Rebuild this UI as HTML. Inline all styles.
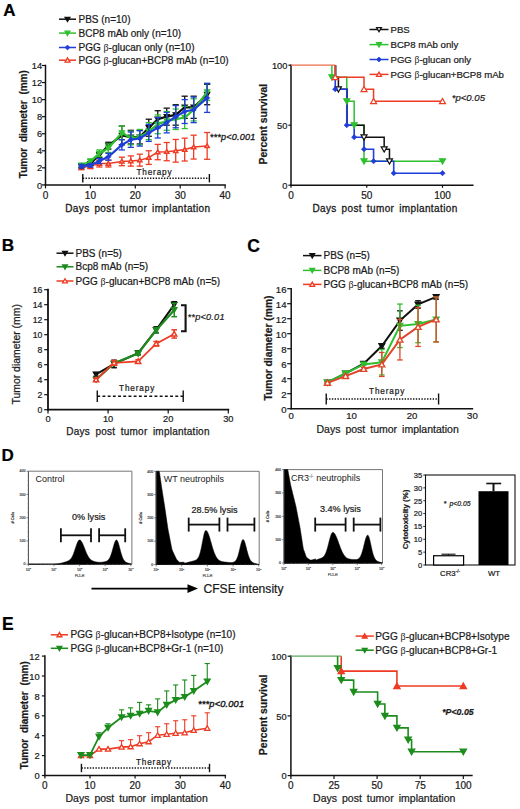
<!DOCTYPE html><html><head><meta charset="utf-8"><style>html,body{margin:0;padding:0;background:#fff;overflow:hidden;}svg{display:block;}text{font-family:"Liberation Sans",sans-serif;}</style></head><body>
<svg width="520" height="809" viewBox="0 0 520 809">
<rect width="520" height="809" fill="#fff"/>
<text x="3.30" y="15.80" font-size="17" text-anchor="start" font-weight="bold" font-style="normal" fill="#000" stroke="#000" stroke-width="0.22" >A</text>
<text x="1.70" y="250.80" font-size="17.2" text-anchor="start" font-weight="bold" font-style="normal" fill="#000" stroke="#000" stroke-width="0.22" >B</text>
<text x="247.20" y="251.60" font-size="17.5" text-anchor="start" font-weight="bold" font-style="normal" fill="#000" stroke="#000" stroke-width="0.22" >C</text>
<text x="1.50" y="460.60" font-size="17" text-anchor="start" font-weight="bold" font-style="normal" fill="#000" stroke="#000" stroke-width="0.22" >D</text>
<text x="1.90" y="629.80" font-size="17.5" text-anchor="start" font-weight="bold" font-style="normal" fill="#000" stroke="#000" stroke-width="0.22" >E</text>
<line x1="45.50" y1="184.90" x2="225.10" y2="184.90" stroke="#111" stroke-width="1.5" stroke-linecap="square"/>
<line x1="45.50" y1="184.90" x2="45.50" y2="65.48" stroke="#111" stroke-width="1.5" stroke-linecap="square"/>
<line x1="42.00" y1="184.90" x2="45.50" y2="184.90" stroke="#111" stroke-width="1.2" />
<text x="42.10" y="188.50" font-size="9.3" text-anchor="end" font-weight="normal" font-style="normal" fill="#1a1a1a" stroke="#1a1a1a" stroke-width="0.22" >0</text>
<line x1="42.00" y1="167.84" x2="45.50" y2="167.84" stroke="#111" stroke-width="1.2" />
<text x="42.10" y="171.44" font-size="9.3" text-anchor="end" font-weight="normal" font-style="normal" fill="#1a1a1a" stroke="#1a1a1a" stroke-width="0.22" >2</text>
<line x1="42.00" y1="150.78" x2="45.50" y2="150.78" stroke="#111" stroke-width="1.2" />
<text x="42.10" y="154.38" font-size="9.3" text-anchor="end" font-weight="normal" font-style="normal" fill="#1a1a1a" stroke="#1a1a1a" stroke-width="0.22" >4</text>
<line x1="42.00" y1="133.72" x2="45.50" y2="133.72" stroke="#111" stroke-width="1.2" />
<text x="42.10" y="137.32" font-size="9.3" text-anchor="end" font-weight="normal" font-style="normal" fill="#1a1a1a" stroke="#1a1a1a" stroke-width="0.22" >6</text>
<line x1="42.00" y1="116.66" x2="45.50" y2="116.66" stroke="#111" stroke-width="1.2" />
<text x="42.10" y="120.26" font-size="9.3" text-anchor="end" font-weight="normal" font-style="normal" fill="#1a1a1a" stroke="#1a1a1a" stroke-width="0.22" >8</text>
<line x1="42.00" y1="99.60" x2="45.50" y2="99.60" stroke="#111" stroke-width="1.2" />
<text x="42.10" y="103.20" font-size="9.3" text-anchor="end" font-weight="normal" font-style="normal" fill="#1a1a1a" stroke="#1a1a1a" stroke-width="0.22" >10</text>
<line x1="42.00" y1="82.54" x2="45.50" y2="82.54" stroke="#111" stroke-width="1.2" />
<text x="42.10" y="86.14" font-size="9.3" text-anchor="end" font-weight="normal" font-style="normal" fill="#1a1a1a" stroke="#1a1a1a" stroke-width="0.22" >12</text>
<line x1="42.00" y1="65.48" x2="45.50" y2="65.48" stroke="#111" stroke-width="1.2" />
<text x="42.10" y="69.08" font-size="9.3" text-anchor="end" font-weight="normal" font-style="normal" fill="#1a1a1a" stroke="#1a1a1a" stroke-width="0.22" >14</text>
<line x1="45.50" y1="184.90" x2="45.50" y2="188.40" stroke="#111" stroke-width="1.2" />
<text x="45.50" y="198.90" font-size="10" text-anchor="middle" font-weight="normal" font-style="normal" fill="#1a1a1a" stroke="#1a1a1a" stroke-width="0.22" >0</text>
<line x1="90.40" y1="184.90" x2="90.40" y2="188.40" stroke="#111" stroke-width="1.2" />
<text x="90.40" y="198.90" font-size="10" text-anchor="middle" font-weight="normal" font-style="normal" fill="#1a1a1a" stroke="#1a1a1a" stroke-width="0.22" >10</text>
<line x1="135.30" y1="184.90" x2="135.30" y2="188.40" stroke="#111" stroke-width="1.2" />
<text x="135.30" y="198.90" font-size="10" text-anchor="middle" font-weight="normal" font-style="normal" fill="#1a1a1a" stroke="#1a1a1a" stroke-width="0.22" >20</text>
<line x1="180.20" y1="184.90" x2="180.20" y2="188.40" stroke="#111" stroke-width="1.2" />
<text x="180.20" y="198.90" font-size="10" text-anchor="middle" font-weight="normal" font-style="normal" fill="#1a1a1a" stroke="#1a1a1a" stroke-width="0.22" >30</text>
<line x1="225.10" y1="184.90" x2="225.10" y2="188.40" stroke="#111" stroke-width="1.2" />
<text x="225.10" y="198.90" font-size="10" text-anchor="middle" font-weight="normal" font-style="normal" fill="#1a1a1a" stroke="#1a1a1a" stroke-width="0.22" >40</text>
<text x="137.90" y="211.80" font-size="10" text-anchor="middle" font-weight="normal" font-style="normal" fill="#1a1a1a" letter-spacing="0.38" word-spacing="1.7" stroke="#1a1a1a" stroke-width="0.3">Days post tumor implantation</text>
<text x="27.20" y="124.20" font-size="10" text-anchor="middle" font-weight="bold" font-style="normal" fill="#1a1a1a" stroke="#1a1a1a" stroke-width="0.22" transform="rotate(-90 27.2 124.2)" word-spacing="3">Tumor diameter (mm)</text>
<line x1="81.42" y1="166.13" x2="81.42" y2="169.55" stroke="#ee3b24" stroke-width="1.3" />
<line x1="78.32" y1="166.13" x2="84.52" y2="166.13" stroke="#ee3b24" stroke-width="1.3" />
<line x1="78.32" y1="169.55" x2="84.52" y2="169.55" stroke="#ee3b24" stroke-width="1.3" />
<line x1="90.40" y1="163.58" x2="90.40" y2="168.69" stroke="#ee3b24" stroke-width="1.3" />
<line x1="87.30" y1="163.58" x2="93.50" y2="163.58" stroke="#ee3b24" stroke-width="1.3" />
<line x1="87.30" y1="168.69" x2="93.50" y2="168.69" stroke="#ee3b24" stroke-width="1.3" />
<line x1="99.38" y1="160.16" x2="99.38" y2="166.99" stroke="#ee3b24" stroke-width="1.3" />
<line x1="96.28" y1="160.16" x2="102.48" y2="160.16" stroke="#ee3b24" stroke-width="1.3" />
<line x1="96.28" y1="166.99" x2="102.48" y2="166.99" stroke="#ee3b24" stroke-width="1.3" />
<line x1="108.36" y1="160.16" x2="108.36" y2="166.99" stroke="#ee3b24" stroke-width="1.3" />
<line x1="105.26" y1="160.16" x2="111.46" y2="160.16" stroke="#ee3b24" stroke-width="1.3" />
<line x1="105.26" y1="166.99" x2="111.46" y2="166.99" stroke="#ee3b24" stroke-width="1.3" />
<line x1="121.83" y1="157.18" x2="121.83" y2="165.71" stroke="#ee3b24" stroke-width="1.3" />
<line x1="118.73" y1="157.18" x2="124.93" y2="157.18" stroke="#ee3b24" stroke-width="1.3" />
<line x1="118.73" y1="165.71" x2="124.93" y2="165.71" stroke="#ee3b24" stroke-width="1.3" />
<line x1="130.81" y1="155.90" x2="130.81" y2="166.13" stroke="#ee3b24" stroke-width="1.3" />
<line x1="127.71" y1="155.90" x2="133.91" y2="155.90" stroke="#ee3b24" stroke-width="1.3" />
<line x1="127.71" y1="166.13" x2="133.91" y2="166.13" stroke="#ee3b24" stroke-width="1.3" />
<line x1="139.79" y1="154.19" x2="139.79" y2="166.13" stroke="#ee3b24" stroke-width="1.3" />
<line x1="136.69" y1="154.19" x2="142.89" y2="154.19" stroke="#ee3b24" stroke-width="1.3" />
<line x1="136.69" y1="166.13" x2="142.89" y2="166.13" stroke="#ee3b24" stroke-width="1.3" />
<line x1="148.77" y1="150.78" x2="148.77" y2="164.43" stroke="#ee3b24" stroke-width="1.3" />
<line x1="145.67" y1="150.78" x2="151.87" y2="150.78" stroke="#ee3b24" stroke-width="1.3" />
<line x1="145.67" y1="164.43" x2="151.87" y2="164.43" stroke="#ee3b24" stroke-width="1.3" />
<line x1="157.75" y1="144.38" x2="157.75" y2="159.74" stroke="#ee3b24" stroke-width="1.3" />
<line x1="154.65" y1="144.38" x2="160.85" y2="144.38" stroke="#ee3b24" stroke-width="1.3" />
<line x1="154.65" y1="159.74" x2="160.85" y2="159.74" stroke="#ee3b24" stroke-width="1.3" />
<line x1="166.73" y1="142.51" x2="166.73" y2="160.76" stroke="#ee3b24" stroke-width="1.3" />
<line x1="163.63" y1="142.51" x2="169.83" y2="142.51" stroke="#ee3b24" stroke-width="1.3" />
<line x1="163.63" y1="160.76" x2="169.83" y2="160.76" stroke="#ee3b24" stroke-width="1.3" />
<line x1="175.71" y1="139.44" x2="175.71" y2="162.12" stroke="#ee3b24" stroke-width="1.3" />
<line x1="172.61" y1="139.44" x2="178.81" y2="139.44" stroke="#ee3b24" stroke-width="1.3" />
<line x1="172.61" y1="162.12" x2="178.81" y2="162.12" stroke="#ee3b24" stroke-width="1.3" />
<line x1="184.69" y1="138.16" x2="184.69" y2="161.02" stroke="#ee3b24" stroke-width="1.3" />
<line x1="181.59" y1="138.16" x2="187.79" y2="138.16" stroke="#ee3b24" stroke-width="1.3" />
<line x1="181.59" y1="161.02" x2="187.79" y2="161.02" stroke="#ee3b24" stroke-width="1.3" />
<line x1="193.67" y1="135.17" x2="193.67" y2="159.05" stroke="#ee3b24" stroke-width="1.3" />
<line x1="190.57" y1="135.17" x2="196.77" y2="135.17" stroke="#ee3b24" stroke-width="1.3" />
<line x1="190.57" y1="159.05" x2="196.77" y2="159.05" stroke="#ee3b24" stroke-width="1.3" />
<line x1="207.14" y1="132.53" x2="207.14" y2="159.31" stroke="#ee3b24" stroke-width="1.3" />
<line x1="204.04" y1="132.53" x2="210.24" y2="132.53" stroke="#ee3b24" stroke-width="1.3" />
<line x1="204.04" y1="159.31" x2="210.24" y2="159.31" stroke="#ee3b24" stroke-width="1.3" />
<polyline points="81.42,167.84 90.40,166.13 99.38,163.58 108.36,163.58 121.83,161.44 130.81,161.02 139.79,160.16 148.77,157.60 157.75,152.06 166.73,151.63 175.71,150.78 184.69,149.59 193.67,147.11 207.14,145.92" fill="none" stroke="#ee3b24" stroke-width="1.5" stroke-linejoin="miter" />
<polygon points="79.32,169.52 83.52,169.52 81.42,165.84" fill="#fff" stroke="#ee3b24" stroke-width="1.5" stroke-linejoin="miter"/>
<polygon points="88.30,167.81 92.50,167.81 90.40,164.14" fill="#fff" stroke="#ee3b24" stroke-width="1.5" stroke-linejoin="miter"/>
<polygon points="97.28,165.26 101.48,165.26 99.38,161.58" fill="#fff" stroke="#ee3b24" stroke-width="1.5" stroke-linejoin="miter"/>
<polygon points="106.26,165.26 110.46,165.26 108.36,161.58" fill="#fff" stroke="#ee3b24" stroke-width="1.5" stroke-linejoin="miter"/>
<polygon points="119.73,163.12 123.93,163.12 121.83,159.45" fill="#fff" stroke="#ee3b24" stroke-width="1.5" stroke-linejoin="miter"/>
<polygon points="128.71,162.70 132.91,162.70 130.81,159.02" fill="#fff" stroke="#ee3b24" stroke-width="1.5" stroke-linejoin="miter"/>
<polygon points="137.69,161.84 141.89,161.84 139.79,158.17" fill="#fff" stroke="#ee3b24" stroke-width="1.5" stroke-linejoin="miter"/>
<polygon points="146.67,159.28 150.87,159.28 148.77,155.61" fill="#fff" stroke="#ee3b24" stroke-width="1.5" stroke-linejoin="miter"/>
<polygon points="155.65,153.74 159.85,153.74 157.75,150.06" fill="#fff" stroke="#ee3b24" stroke-width="1.5" stroke-linejoin="miter"/>
<polygon points="164.63,153.31 168.83,153.31 166.73,149.64" fill="#fff" stroke="#ee3b24" stroke-width="1.5" stroke-linejoin="miter"/>
<polygon points="173.61,152.46 177.81,152.46 175.71,148.78" fill="#fff" stroke="#ee3b24" stroke-width="1.5" stroke-linejoin="miter"/>
<polygon points="182.59,151.27 186.79,151.27 184.69,147.59" fill="#fff" stroke="#ee3b24" stroke-width="1.5" stroke-linejoin="miter"/>
<polygon points="191.57,148.79 195.77,148.79 193.67,145.12" fill="#fff" stroke="#ee3b24" stroke-width="1.5" stroke-linejoin="miter"/>
<polygon points="205.04,147.60 209.24,147.60 207.14,143.92" fill="#fff" stroke="#ee3b24" stroke-width="1.5" stroke-linejoin="miter"/>
<line x1="81.42" y1="164.43" x2="81.42" y2="167.84" stroke="#111" stroke-width="1.3" />
<line x1="78.32" y1="164.43" x2="84.52" y2="164.43" stroke="#111" stroke-width="1.3" />
<line x1="78.32" y1="167.84" x2="84.52" y2="167.84" stroke="#111" stroke-width="1.3" />
<line x1="90.40" y1="161.87" x2="90.40" y2="165.28" stroke="#111" stroke-width="1.3" />
<line x1="87.30" y1="161.87" x2="93.50" y2="161.87" stroke="#111" stroke-width="1.3" />
<line x1="87.30" y1="165.28" x2="93.50" y2="165.28" stroke="#111" stroke-width="1.3" />
<line x1="99.38" y1="152.49" x2="99.38" y2="157.60" stroke="#111" stroke-width="1.3" />
<line x1="96.28" y1="152.49" x2="102.48" y2="152.49" stroke="#111" stroke-width="1.3" />
<line x1="96.28" y1="157.60" x2="102.48" y2="157.60" stroke="#111" stroke-width="1.3" />
<line x1="108.36" y1="142.25" x2="108.36" y2="149.07" stroke="#111" stroke-width="1.3" />
<line x1="105.26" y1="142.25" x2="111.46" y2="142.25" stroke="#111" stroke-width="1.3" />
<line x1="105.26" y1="149.07" x2="111.46" y2="149.07" stroke="#111" stroke-width="1.3" />
<line x1="121.83" y1="126.04" x2="121.83" y2="144.81" stroke="#111" stroke-width="1.3" />
<line x1="118.73" y1="126.04" x2="124.93" y2="126.04" stroke="#111" stroke-width="1.3" />
<line x1="118.73" y1="144.81" x2="124.93" y2="144.81" stroke="#111" stroke-width="1.3" />
<line x1="130.81" y1="130.31" x2="130.81" y2="143.96" stroke="#111" stroke-width="1.3" />
<line x1="127.71" y1="130.31" x2="133.91" y2="130.31" stroke="#111" stroke-width="1.3" />
<line x1="127.71" y1="143.96" x2="133.91" y2="143.96" stroke="#111" stroke-width="1.3" />
<line x1="139.79" y1="130.31" x2="139.79" y2="143.96" stroke="#111" stroke-width="1.3" />
<line x1="136.69" y1="130.31" x2="142.89" y2="130.31" stroke="#111" stroke-width="1.3" />
<line x1="136.69" y1="143.96" x2="142.89" y2="143.96" stroke="#111" stroke-width="1.3" />
<line x1="148.77" y1="119.22" x2="148.77" y2="136.28" stroke="#111" stroke-width="1.3" />
<line x1="145.67" y1="119.22" x2="151.87" y2="119.22" stroke="#111" stroke-width="1.3" />
<line x1="145.67" y1="136.28" x2="151.87" y2="136.28" stroke="#111" stroke-width="1.3" />
<line x1="157.75" y1="110.69" x2="157.75" y2="127.75" stroke="#111" stroke-width="1.3" />
<line x1="154.65" y1="110.69" x2="160.85" y2="110.69" stroke="#111" stroke-width="1.3" />
<line x1="154.65" y1="127.75" x2="160.85" y2="127.75" stroke="#111" stroke-width="1.3" />
<line x1="166.73" y1="108.13" x2="166.73" y2="125.19" stroke="#111" stroke-width="1.3" />
<line x1="163.63" y1="108.13" x2="169.83" y2="108.13" stroke="#111" stroke-width="1.3" />
<line x1="163.63" y1="125.19" x2="169.83" y2="125.19" stroke="#111" stroke-width="1.3" />
<line x1="175.71" y1="104.72" x2="175.71" y2="125.19" stroke="#111" stroke-width="1.3" />
<line x1="172.61" y1="104.72" x2="178.81" y2="104.72" stroke="#111" stroke-width="1.3" />
<line x1="172.61" y1="125.19" x2="178.81" y2="125.19" stroke="#111" stroke-width="1.3" />
<line x1="184.69" y1="96.19" x2="184.69" y2="118.37" stroke="#111" stroke-width="1.3" />
<line x1="181.59" y1="96.19" x2="187.79" y2="96.19" stroke="#111" stroke-width="1.3" />
<line x1="181.59" y1="118.37" x2="187.79" y2="118.37" stroke="#111" stroke-width="1.3" />
<line x1="193.67" y1="96.19" x2="193.67" y2="118.37" stroke="#111" stroke-width="1.3" />
<line x1="190.57" y1="96.19" x2="196.77" y2="96.19" stroke="#111" stroke-width="1.3" />
<line x1="190.57" y1="118.37" x2="196.77" y2="118.37" stroke="#111" stroke-width="1.3" />
<line x1="207.14" y1="84.25" x2="207.14" y2="104.72" stroke="#111" stroke-width="1.3" />
<line x1="204.04" y1="84.25" x2="210.24" y2="84.25" stroke="#111" stroke-width="1.3" />
<line x1="204.04" y1="104.72" x2="210.24" y2="104.72" stroke="#111" stroke-width="1.3" />
<polyline points="81.42,166.13 90.40,163.58 99.38,155.05 108.36,145.66 121.83,135.43 130.81,137.13 139.79,137.13 148.77,127.75 157.75,119.22 166.73,116.66 175.71,114.95 184.69,107.28 193.67,107.28 207.14,94.48" fill="none" stroke="#111" stroke-width="2.2" stroke-linejoin="miter" />
<polygon points="78.82,164.05 84.02,164.05 81.42,168.60" fill="#111" stroke="#111" stroke-width="1.2" stroke-linejoin="miter"/>
<polygon points="87.80,161.50 93.00,161.50 90.40,166.05" fill="#111" stroke="#111" stroke-width="1.2" stroke-linejoin="miter"/>
<polygon points="96.78,152.97 101.98,152.97 99.38,157.52" fill="#111" stroke="#111" stroke-width="1.2" stroke-linejoin="miter"/>
<polygon points="105.76,143.58 110.96,143.58 108.36,148.13" fill="#111" stroke="#111" stroke-width="1.2" stroke-linejoin="miter"/>
<polygon points="119.23,133.35 124.43,133.35 121.83,137.90" fill="#111" stroke="#111" stroke-width="1.2" stroke-linejoin="miter"/>
<polygon points="128.21,135.05 133.41,135.05 130.81,139.60" fill="#111" stroke="#111" stroke-width="1.2" stroke-linejoin="miter"/>
<polygon points="137.19,135.05 142.39,135.05 139.79,139.60" fill="#111" stroke="#111" stroke-width="1.2" stroke-linejoin="miter"/>
<polygon points="146.17,125.67 151.37,125.67 148.77,130.22" fill="#111" stroke="#111" stroke-width="1.2" stroke-linejoin="miter"/>
<polygon points="155.15,117.14 160.35,117.14 157.75,121.69" fill="#111" stroke="#111" stroke-width="1.2" stroke-linejoin="miter"/>
<polygon points="164.13,114.58 169.33,114.58 166.73,119.13" fill="#111" stroke="#111" stroke-width="1.2" stroke-linejoin="miter"/>
<polygon points="173.11,112.87 178.31,112.87 175.71,117.42" fill="#111" stroke="#111" stroke-width="1.2" stroke-linejoin="miter"/>
<polygon points="182.09,105.20 187.29,105.20 184.69,109.75" fill="#111" stroke="#111" stroke-width="1.2" stroke-linejoin="miter"/>
<polygon points="191.07,105.20 196.27,105.20 193.67,109.75" fill="#111" stroke="#111" stroke-width="1.2" stroke-linejoin="miter"/>
<polygon points="204.54,92.40 209.74,92.40 207.14,96.95" fill="#111" stroke="#111" stroke-width="1.2" stroke-linejoin="miter"/>
<line x1="81.42" y1="163.58" x2="81.42" y2="166.99" stroke="#2fc02f" stroke-width="1.3" />
<line x1="78.32" y1="163.58" x2="84.52" y2="163.58" stroke="#2fc02f" stroke-width="1.3" />
<line x1="78.32" y1="166.99" x2="84.52" y2="166.99" stroke="#2fc02f" stroke-width="1.3" />
<line x1="90.40" y1="158.88" x2="90.40" y2="164.00" stroke="#2fc02f" stroke-width="1.3" />
<line x1="87.30" y1="158.88" x2="93.50" y2="158.88" stroke="#2fc02f" stroke-width="1.3" />
<line x1="87.30" y1="164.00" x2="93.50" y2="164.00" stroke="#2fc02f" stroke-width="1.3" />
<line x1="99.38" y1="149.93" x2="99.38" y2="156.75" stroke="#2fc02f" stroke-width="1.3" />
<line x1="96.28" y1="149.93" x2="102.48" y2="149.93" stroke="#2fc02f" stroke-width="1.3" />
<line x1="96.28" y1="156.75" x2="102.48" y2="156.75" stroke="#2fc02f" stroke-width="1.3" />
<line x1="108.36" y1="143.96" x2="108.36" y2="152.49" stroke="#2fc02f" stroke-width="1.3" />
<line x1="105.26" y1="143.96" x2="111.46" y2="143.96" stroke="#2fc02f" stroke-width="1.3" />
<line x1="105.26" y1="152.49" x2="111.46" y2="152.49" stroke="#2fc02f" stroke-width="1.3" />
<line x1="121.83" y1="126.04" x2="121.83" y2="139.69" stroke="#2fc02f" stroke-width="1.3" />
<line x1="118.73" y1="126.04" x2="124.93" y2="126.04" stroke="#2fc02f" stroke-width="1.3" />
<line x1="118.73" y1="139.69" x2="124.93" y2="139.69" stroke="#2fc02f" stroke-width="1.3" />
<line x1="130.81" y1="131.16" x2="130.81" y2="144.81" stroke="#2fc02f" stroke-width="1.3" />
<line x1="127.71" y1="131.16" x2="133.91" y2="131.16" stroke="#2fc02f" stroke-width="1.3" />
<line x1="127.71" y1="144.81" x2="133.91" y2="144.81" stroke="#2fc02f" stroke-width="1.3" />
<line x1="139.79" y1="129.46" x2="139.79" y2="144.81" stroke="#2fc02f" stroke-width="1.3" />
<line x1="136.69" y1="129.46" x2="142.89" y2="129.46" stroke="#2fc02f" stroke-width="1.3" />
<line x1="136.69" y1="144.81" x2="142.89" y2="144.81" stroke="#2fc02f" stroke-width="1.3" />
<line x1="148.77" y1="122.63" x2="148.77" y2="139.69" stroke="#2fc02f" stroke-width="1.3" />
<line x1="145.67" y1="122.63" x2="151.87" y2="122.63" stroke="#2fc02f" stroke-width="1.3" />
<line x1="145.67" y1="139.69" x2="151.87" y2="139.69" stroke="#2fc02f" stroke-width="1.3" />
<line x1="157.75" y1="114.95" x2="157.75" y2="133.72" stroke="#2fc02f" stroke-width="1.3" />
<line x1="154.65" y1="114.95" x2="160.85" y2="114.95" stroke="#2fc02f" stroke-width="1.3" />
<line x1="154.65" y1="133.72" x2="160.85" y2="133.72" stroke="#2fc02f" stroke-width="1.3" />
<line x1="166.73" y1="111.54" x2="166.73" y2="130.31" stroke="#2fc02f" stroke-width="1.3" />
<line x1="163.63" y1="111.54" x2="169.83" y2="111.54" stroke="#2fc02f" stroke-width="1.3" />
<line x1="163.63" y1="130.31" x2="169.83" y2="130.31" stroke="#2fc02f" stroke-width="1.3" />
<line x1="175.71" y1="108.98" x2="175.71" y2="129.46" stroke="#2fc02f" stroke-width="1.3" />
<line x1="172.61" y1="108.98" x2="178.81" y2="108.98" stroke="#2fc02f" stroke-width="1.3" />
<line x1="172.61" y1="129.46" x2="178.81" y2="129.46" stroke="#2fc02f" stroke-width="1.3" />
<line x1="184.69" y1="106.42" x2="184.69" y2="128.60" stroke="#2fc02f" stroke-width="1.3" />
<line x1="181.59" y1="106.42" x2="187.79" y2="106.42" stroke="#2fc02f" stroke-width="1.3" />
<line x1="181.59" y1="128.60" x2="187.79" y2="128.60" stroke="#2fc02f" stroke-width="1.3" />
<line x1="193.67" y1="98.75" x2="193.67" y2="120.93" stroke="#2fc02f" stroke-width="1.3" />
<line x1="190.57" y1="98.75" x2="196.77" y2="98.75" stroke="#2fc02f" stroke-width="1.3" />
<line x1="190.57" y1="120.93" x2="196.77" y2="120.93" stroke="#2fc02f" stroke-width="1.3" />
<line x1="207.14" y1="83.39" x2="207.14" y2="100.45" stroke="#2fc02f" stroke-width="1.3" />
<line x1="204.04" y1="83.39" x2="210.24" y2="83.39" stroke="#2fc02f" stroke-width="1.3" />
<line x1="204.04" y1="100.45" x2="210.24" y2="100.45" stroke="#2fc02f" stroke-width="1.3" />
<polyline points="81.42,165.28 90.40,161.44 99.38,153.34 108.36,148.22 121.83,132.87 130.81,137.99 139.79,137.13 148.77,131.16 157.75,124.34 166.73,120.93 175.71,119.22 184.69,117.51 193.67,109.84 207.14,91.92" fill="none" stroke="#2fc02f" stroke-width="2.2" stroke-linejoin="miter" />
<polygon points="78.82,163.20 84.02,163.20 81.42,167.75" fill="#2fc02f" stroke="#2fc02f" stroke-width="1.2" stroke-linejoin="miter"/>
<polygon points="87.80,159.36 93.00,159.36 90.40,163.91" fill="#2fc02f" stroke="#2fc02f" stroke-width="1.2" stroke-linejoin="miter"/>
<polygon points="96.78,151.26 101.98,151.26 99.38,155.81" fill="#2fc02f" stroke="#2fc02f" stroke-width="1.2" stroke-linejoin="miter"/>
<polygon points="105.76,146.14 110.96,146.14 108.36,150.69" fill="#2fc02f" stroke="#2fc02f" stroke-width="1.2" stroke-linejoin="miter"/>
<polygon points="119.23,130.79 124.43,130.79 121.83,135.34" fill="#2fc02f" stroke="#2fc02f" stroke-width="1.2" stroke-linejoin="miter"/>
<polygon points="128.21,135.91 133.41,135.91 130.81,140.46" fill="#2fc02f" stroke="#2fc02f" stroke-width="1.2" stroke-linejoin="miter"/>
<polygon points="137.19,135.05 142.39,135.05 139.79,139.60" fill="#2fc02f" stroke="#2fc02f" stroke-width="1.2" stroke-linejoin="miter"/>
<polygon points="146.17,129.08 151.37,129.08 148.77,133.63" fill="#2fc02f" stroke="#2fc02f" stroke-width="1.2" stroke-linejoin="miter"/>
<polygon points="155.15,122.26 160.35,122.26 157.75,126.81" fill="#2fc02f" stroke="#2fc02f" stroke-width="1.2" stroke-linejoin="miter"/>
<polygon points="164.13,118.85 169.33,118.85 166.73,123.40" fill="#2fc02f" stroke="#2fc02f" stroke-width="1.2" stroke-linejoin="miter"/>
<polygon points="173.11,117.14 178.31,117.14 175.71,121.69" fill="#2fc02f" stroke="#2fc02f" stroke-width="1.2" stroke-linejoin="miter"/>
<polygon points="182.09,115.43 187.29,115.43 184.69,119.98" fill="#2fc02f" stroke="#2fc02f" stroke-width="1.2" stroke-linejoin="miter"/>
<polygon points="191.07,107.76 196.27,107.76 193.67,112.31" fill="#2fc02f" stroke="#2fc02f" stroke-width="1.2" stroke-linejoin="miter"/>
<polygon points="204.54,89.84 209.74,89.84 207.14,94.39" fill="#2fc02f" stroke="#2fc02f" stroke-width="1.2" stroke-linejoin="miter"/>
<line x1="81.42" y1="164.43" x2="81.42" y2="167.84" stroke="#1f3fd8" stroke-width="1.3" />
<line x1="78.32" y1="164.43" x2="84.52" y2="164.43" stroke="#1f3fd8" stroke-width="1.3" />
<line x1="78.32" y1="167.84" x2="84.52" y2="167.84" stroke="#1f3fd8" stroke-width="1.3" />
<line x1="90.40" y1="163.58" x2="90.40" y2="166.99" stroke="#1f3fd8" stroke-width="1.3" />
<line x1="87.30" y1="163.58" x2="93.50" y2="163.58" stroke="#1f3fd8" stroke-width="1.3" />
<line x1="87.30" y1="166.99" x2="93.50" y2="166.99" stroke="#1f3fd8" stroke-width="1.3" />
<line x1="99.38" y1="158.46" x2="99.38" y2="163.58" stroke="#1f3fd8" stroke-width="1.3" />
<line x1="96.28" y1="158.46" x2="102.48" y2="158.46" stroke="#1f3fd8" stroke-width="1.3" />
<line x1="96.28" y1="163.58" x2="102.48" y2="163.58" stroke="#1f3fd8" stroke-width="1.3" />
<line x1="108.36" y1="153.34" x2="108.36" y2="160.16" stroke="#1f3fd8" stroke-width="1.3" />
<line x1="105.26" y1="153.34" x2="111.46" y2="153.34" stroke="#1f3fd8" stroke-width="1.3" />
<line x1="105.26" y1="160.16" x2="111.46" y2="160.16" stroke="#1f3fd8" stroke-width="1.3" />
<line x1="121.83" y1="139.69" x2="121.83" y2="149.93" stroke="#1f3fd8" stroke-width="1.3" />
<line x1="118.73" y1="139.69" x2="124.93" y2="139.69" stroke="#1f3fd8" stroke-width="1.3" />
<line x1="118.73" y1="149.93" x2="124.93" y2="149.93" stroke="#1f3fd8" stroke-width="1.3" />
<line x1="130.81" y1="132.01" x2="130.81" y2="147.37" stroke="#1f3fd8" stroke-width="1.3" />
<line x1="127.71" y1="132.01" x2="133.91" y2="132.01" stroke="#1f3fd8" stroke-width="1.3" />
<line x1="127.71" y1="147.37" x2="133.91" y2="147.37" stroke="#1f3fd8" stroke-width="1.3" />
<line x1="139.79" y1="130.73" x2="139.79" y2="146.09" stroke="#1f3fd8" stroke-width="1.3" />
<line x1="136.69" y1="130.73" x2="142.89" y2="130.73" stroke="#1f3fd8" stroke-width="1.3" />
<line x1="136.69" y1="146.09" x2="142.89" y2="146.09" stroke="#1f3fd8" stroke-width="1.3" />
<line x1="148.77" y1="124.34" x2="148.77" y2="141.40" stroke="#1f3fd8" stroke-width="1.3" />
<line x1="145.67" y1="124.34" x2="151.87" y2="124.34" stroke="#1f3fd8" stroke-width="1.3" />
<line x1="145.67" y1="141.40" x2="151.87" y2="141.40" stroke="#1f3fd8" stroke-width="1.3" />
<line x1="157.75" y1="117.51" x2="157.75" y2="137.99" stroke="#1f3fd8" stroke-width="1.3" />
<line x1="154.65" y1="117.51" x2="160.85" y2="117.51" stroke="#1f3fd8" stroke-width="1.3" />
<line x1="154.65" y1="137.99" x2="160.85" y2="137.99" stroke="#1f3fd8" stroke-width="1.3" />
<line x1="166.73" y1="112.40" x2="166.73" y2="132.87" stroke="#1f3fd8" stroke-width="1.3" />
<line x1="163.63" y1="112.40" x2="169.83" y2="112.40" stroke="#1f3fd8" stroke-width="1.3" />
<line x1="163.63" y1="132.87" x2="169.83" y2="132.87" stroke="#1f3fd8" stroke-width="1.3" />
<line x1="175.71" y1="105.57" x2="175.71" y2="127.75" stroke="#1f3fd8" stroke-width="1.3" />
<line x1="172.61" y1="105.57" x2="178.81" y2="105.57" stroke="#1f3fd8" stroke-width="1.3" />
<line x1="172.61" y1="127.75" x2="178.81" y2="127.75" stroke="#1f3fd8" stroke-width="1.3" />
<line x1="184.69" y1="99.60" x2="184.69" y2="123.48" stroke="#1f3fd8" stroke-width="1.3" />
<line x1="181.59" y1="99.60" x2="187.79" y2="99.60" stroke="#1f3fd8" stroke-width="1.3" />
<line x1="181.59" y1="123.48" x2="187.79" y2="123.48" stroke="#1f3fd8" stroke-width="1.3" />
<line x1="193.67" y1="97.04" x2="193.67" y2="122.63" stroke="#1f3fd8" stroke-width="1.3" />
<line x1="190.57" y1="97.04" x2="196.77" y2="97.04" stroke="#1f3fd8" stroke-width="1.3" />
<line x1="190.57" y1="122.63" x2="196.77" y2="122.63" stroke="#1f3fd8" stroke-width="1.3" />
<line x1="207.14" y1="83.39" x2="207.14" y2="112.40" stroke="#1f3fd8" stroke-width="1.3" />
<line x1="204.04" y1="83.39" x2="210.24" y2="83.39" stroke="#1f3fd8" stroke-width="1.3" />
<line x1="204.04" y1="112.40" x2="210.24" y2="112.40" stroke="#1f3fd8" stroke-width="1.3" />
<polyline points="81.42,166.13 90.40,165.28 99.38,161.02 108.36,156.75 121.83,144.81 130.81,139.69 139.79,138.41 148.77,132.87 157.75,127.75 166.73,122.63 175.71,116.66 184.69,111.54 193.67,109.84 207.14,97.89" fill="none" stroke="#1f3fd8" stroke-width="2.2" stroke-linejoin="miter" />
<polygon points="81.42,163.53 84.02,166.13 81.42,168.73 78.82,166.13" fill="#1f3fd8" stroke="#1f3fd8" stroke-width="0.72"/>
<polygon points="90.40,162.68 93.00,165.28 90.40,167.88 87.80,165.28" fill="#1f3fd8" stroke="#1f3fd8" stroke-width="0.72"/>
<polygon points="99.38,158.42 101.98,161.02 99.38,163.62 96.78,161.02" fill="#1f3fd8" stroke="#1f3fd8" stroke-width="0.72"/>
<polygon points="108.36,154.15 110.96,156.75 108.36,159.35 105.76,156.75" fill="#1f3fd8" stroke="#1f3fd8" stroke-width="0.72"/>
<polygon points="121.83,142.21 124.43,144.81 121.83,147.41 119.23,144.81" fill="#1f3fd8" stroke="#1f3fd8" stroke-width="0.72"/>
<polygon points="130.81,137.09 133.41,139.69 130.81,142.29 128.21,139.69" fill="#1f3fd8" stroke="#1f3fd8" stroke-width="0.72"/>
<polygon points="139.79,135.81 142.39,138.41 139.79,141.01 137.19,138.41" fill="#1f3fd8" stroke="#1f3fd8" stroke-width="0.72"/>
<polygon points="148.77,130.27 151.37,132.87 148.77,135.47 146.17,132.87" fill="#1f3fd8" stroke="#1f3fd8" stroke-width="0.72"/>
<polygon points="157.75,125.15 160.35,127.75 157.75,130.35 155.15,127.75" fill="#1f3fd8" stroke="#1f3fd8" stroke-width="0.72"/>
<polygon points="166.73,120.03 169.33,122.63 166.73,125.23 164.13,122.63" fill="#1f3fd8" stroke="#1f3fd8" stroke-width="0.72"/>
<polygon points="175.71,114.06 178.31,116.66 175.71,119.26 173.11,116.66" fill="#1f3fd8" stroke="#1f3fd8" stroke-width="0.72"/>
<polygon points="184.69,108.94 187.29,111.54 184.69,114.14 182.09,111.54" fill="#1f3fd8" stroke="#1f3fd8" stroke-width="0.72"/>
<polygon points="193.67,107.24 196.27,109.84 193.67,112.44 191.07,109.84" fill="#1f3fd8" stroke="#1f3fd8" stroke-width="0.72"/>
<polygon points="207.14,95.29 209.74,97.89 207.14,100.49 204.54,97.89" fill="#1f3fd8" stroke="#1f3fd8" stroke-width="0.72"/>
<line x1="82.77" y1="174.00" x2="82.77" y2="182.40" stroke="#111" stroke-width="1.4" />
<line x1="209.39" y1="174.00" x2="209.39" y2="182.40" stroke="#111" stroke-width="1.4" />
<line x1="82.77" y1="178.20" x2="209.39" y2="178.20" stroke="#111" stroke-width="1.4" stroke-dasharray="1.4,1.4"/>
<text x="154.40" y="174.90" font-size="8.2" text-anchor="middle" font-weight="normal" font-style="normal" fill="#1a1a1a" stroke="#1a1a1a" stroke-width="0.22" letter-spacing="0.85">Therapy</text>
<text x="209.80" y="139.60" font-size="9.1" text-anchor="start" font-weight="normal" font-style="italic" fill="#1a1a1a" stroke="#1a1a1a" stroke-width="0.3" letter-spacing="0.2">***<tspan>p&lt;0.001</tspan></text>
<line x1="59.00" y1="19.20" x2="76.00" y2="19.20" stroke="#111" stroke-width="1.5" />
<polygon points="65.10,17.28 69.90,17.28 67.50,21.48" fill="#111" stroke="#111" stroke-width="1.3" stroke-linejoin="miter"/>
<text x="78.50" y="22.80" font-size="10" text-anchor="start" font-weight="normal" font-style="normal" fill="#1a1a1a" stroke="#1a1a1a" stroke-width="0.22" >PBS (n=10)</text>
<line x1="59.00" y1="33.10" x2="76.00" y2="33.10" stroke="#2fc02f" stroke-width="1.5" />
<polygon points="65.10,31.18 69.90,31.18 67.50,35.38" fill="#2fc02f" stroke="#2fc02f" stroke-width="1.3" stroke-linejoin="miter"/>
<text x="78.50" y="36.70" font-size="10" text-anchor="start" font-weight="normal" font-style="normal" fill="#1a1a1a" stroke="#1a1a1a" stroke-width="0.22" >BCP8 mAb only (n=10)</text>
<line x1="59.00" y1="47.50" x2="76.00" y2="47.50" stroke="#1f3fd8" stroke-width="1.5" />
<polygon points="67.50,45.10 69.90,47.50 67.50,49.90 65.10,47.50" fill="#1f3fd8" stroke="#1f3fd8" stroke-width="0.78"/>
<text x="78.50" y="51.10" font-size="10" text-anchor="start" font-weight="normal" font-style="normal" fill="#1a1a1a" stroke="#1a1a1a" stroke-width="0.22" >PGG <tspan font-family='Liberation Serif' stroke-width='0'>&#946;</tspan>-glucan only (n=10)</text>
<line x1="59.00" y1="60.20" x2="76.00" y2="60.20" stroke="#ee3b24" stroke-width="1.5" />
<polygon points="65.10,62.12 69.90,62.12 67.50,57.92" fill="#fff" stroke="#ee3b24" stroke-width="1.3" stroke-linejoin="miter"/>
<text x="78.50" y="63.80" font-size="10" text-anchor="start" font-weight="normal" font-style="normal" fill="#1a1a1a" stroke="#1a1a1a" stroke-width="0.22" >PGG <tspan font-family='Liberation Serif' stroke-width='0'>&#946;</tspan>-glucan+BCP8 mAb (n=10)</text>
<line x1="291.00" y1="185.20" x2="472.80" y2="185.20" stroke="#111" stroke-width="1.5" stroke-linecap="square"/>
<line x1="291.00" y1="185.20" x2="291.00" y2="65.20" stroke="#111" stroke-width="1.5" stroke-linecap="square"/>
<line x1="288.40" y1="185.20" x2="291.00" y2="185.20" stroke="#111" stroke-width="1.2" />
<text x="287.40" y="188.50" font-size="9.3" text-anchor="end" font-weight="normal" font-style="normal" fill="#1a1a1a" stroke="#1a1a1a" stroke-width="0.22" >0</text>
<line x1="288.40" y1="125.20" x2="291.00" y2="125.20" stroke="#111" stroke-width="1.2" />
<text x="287.40" y="128.50" font-size="9.3" text-anchor="end" font-weight="normal" font-style="normal" fill="#1a1a1a" stroke="#1a1a1a" stroke-width="0.22" >50</text>
<line x1="288.40" y1="65.20" x2="291.00" y2="65.20" stroke="#111" stroke-width="1.2" />
<text x="287.40" y="68.50" font-size="9.3" text-anchor="end" font-weight="normal" font-style="normal" fill="#1a1a1a" stroke="#1a1a1a" stroke-width="0.22" >100</text>
<line x1="291.00" y1="185.20" x2="291.00" y2="187.80" stroke="#111" stroke-width="1.2" />
<text x="291.00" y="198.80" font-size="10" text-anchor="middle" font-weight="normal" font-style="normal" fill="#1a1a1a" stroke="#1a1a1a" stroke-width="0.22" >0</text>
<line x1="366.75" y1="185.20" x2="366.75" y2="187.80" stroke="#111" stroke-width="1.2" />
<text x="366.75" y="198.80" font-size="10" text-anchor="middle" font-weight="normal" font-style="normal" fill="#1a1a1a" stroke="#1a1a1a" stroke-width="0.22" >50</text>
<line x1="442.50" y1="185.20" x2="442.50" y2="187.80" stroke="#111" stroke-width="1.2" />
<text x="442.50" y="198.80" font-size="10" text-anchor="middle" font-weight="normal" font-style="normal" fill="#1a1a1a" stroke="#1a1a1a" stroke-width="0.22" >100</text>
<text x="385.00" y="211.50" font-size="10" text-anchor="middle" font-weight="normal" font-style="normal" fill="#1a1a1a" letter-spacing="0.38" word-spacing="1.7" stroke="#1a1a1a" stroke-width="0.3">Days post tumor implantation</text>
<text x="267.30" y="124.10" font-size="10.45" text-anchor="middle" font-weight="bold" font-style="normal" fill="#1a1a1a" stroke="#1a1a1a" stroke-width="0.22" transform="rotate(-90 267.3 124.1)" >Percent survival</text>
<polyline points="331.90,65.20 331.90,65.20 331.90,77.20 346.75,77.20 346.75,101.20 354.18,101.20 354.18,125.20 364.02,125.20 364.02,161.20 442.50,161.20 442.50,161.20" fill="none" stroke="#2fc02f" stroke-width="1.5" stroke-linejoin="miter" />
<polyline points="335.69,65.20 335.69,65.20 335.69,77.20 338.42,77.20 338.42,89.20 347.06,89.20 347.06,125.20 364.02,125.20 364.02,137.20 384.17,137.20 384.17,149.20 389.48,149.20 389.48,161.20" fill="none" stroke="#111" stroke-width="1.5" stroke-linejoin="miter" />
<polyline points="335.24,65.20 335.24,65.20 335.24,89.20 346.75,89.20 346.75,125.20 354.18,125.20 354.18,137.20 364.02,137.20 364.02,149.20 373.57,149.20 373.57,161.20 393.72,161.20 393.72,173.20 442.50,173.20 442.50,173.20" fill="none" stroke="#1f3fd8" stroke-width="1.6" stroke-linejoin="miter" />
<line x1="291.00" y1="65.20" x2="335.24" y2="65.20" stroke="#ee6a4a" stroke-width="1.2" />
<polyline points="335.24,65.20 335.24,65.20 335.24,77.20 364.02,77.20 364.02,89.20 373.57,89.20 373.57,101.20 442.50,101.20 442.50,101.20" fill="none" stroke="#ee3b24" stroke-width="1.5" stroke-linejoin="miter" />
<polygon points="328.90,74.80 334.90,74.80 331.90,80.05" fill="#2fc02f" stroke="#2fc02f" stroke-width="1.2" stroke-linejoin="miter"/>
<polygon points="343.75,98.80 349.75,98.80 346.75,104.05" fill="#2fc02f" stroke="#2fc02f" stroke-width="1.2" stroke-linejoin="miter"/>
<polygon points="351.18,122.80 357.18,122.80 354.18,128.05" fill="#2fc02f" stroke="#2fc02f" stroke-width="1.2" stroke-linejoin="miter"/>
<polygon points="361.02,158.80 367.02,158.80 364.02,164.05" fill="#2fc02f" stroke="#2fc02f" stroke-width="1.2" stroke-linejoin="miter"/>
<polygon points="439.50,158.80 445.50,158.80 442.50,164.05" fill="#2fc02f" stroke="#2fc02f" stroke-width="1.2" stroke-linejoin="miter"/>
<polygon points="335.42,86.80 341.42,86.80 338.42,92.05" fill="#fff" stroke="#111" stroke-width="1.2" stroke-linejoin="miter"/>
<polygon points="361.02,134.80 367.02,134.80 364.02,140.05" fill="#fff" stroke="#111" stroke-width="1.2" stroke-linejoin="miter"/>
<polygon points="381.17,146.80 387.17,146.80 384.17,152.05" fill="#fff" stroke="#111" stroke-width="1.2" stroke-linejoin="miter"/>
<polygon points="386.48,158.80 392.48,158.80 389.48,164.05" fill="#fff" stroke="#111" stroke-width="1.2" stroke-linejoin="miter"/>
<polygon points="335.24,86.60 337.84,89.20 335.24,91.80 332.64,89.20" fill="#1f3fd8" stroke="#1f3fd8" stroke-width="0.72"/>
<polygon points="346.75,122.60 349.35,125.20 346.75,127.80 344.15,125.20" fill="#1f3fd8" stroke="#1f3fd8" stroke-width="0.72"/>
<polygon points="354.18,134.60 356.78,137.20 354.18,139.80 351.58,137.20" fill="#1f3fd8" stroke="#1f3fd8" stroke-width="0.72"/>
<polygon points="364.02,146.60 366.62,149.20 364.02,151.80 361.42,149.20" fill="#1f3fd8" stroke="#1f3fd8" stroke-width="0.72"/>
<polygon points="373.57,158.60 376.17,161.20 373.57,163.80 370.97,161.20" fill="#1f3fd8" stroke="#1f3fd8" stroke-width="0.72"/>
<polygon points="393.72,170.60 396.32,173.20 393.72,175.80 391.12,173.20" fill="#1f3fd8" stroke="#1f3fd8" stroke-width="0.72"/>
<polygon points="442.50,170.60 445.10,173.20 442.50,175.80 439.90,173.20" fill="#1f3fd8" stroke="#1f3fd8" stroke-width="0.72"/>
<polygon points="332.24,79.60 338.24,79.60 335.24,74.35" fill="#fff" stroke="#ee3b24" stroke-width="1.2" stroke-linejoin="miter"/>
<polygon points="361.02,91.60 367.02,91.60 364.02,86.35" fill="#fff" stroke="#ee3b24" stroke-width="1.2" stroke-linejoin="miter"/>
<polygon points="370.57,103.60 376.57,103.60 373.57,98.35" fill="#fff" stroke="#ee3b24" stroke-width="1.2" stroke-linejoin="miter"/>
<polygon points="439.50,103.60 445.50,103.60 442.50,98.35" fill="#fff" stroke="#ee3b24" stroke-width="1.2" stroke-linejoin="miter"/>
<text x="451.70" y="101.30" font-size="9.6" text-anchor="start" font-weight="normal" font-style="italic" fill="#1a1a1a" stroke="#1a1a1a" stroke-width="0.22" >*p&lt;0.05</text>
<line x1="369.50" y1="29.50" x2="388.50" y2="29.50" stroke="#111" stroke-width="1.5" />
<polygon points="376.60,27.58 381.40,27.58 379.00,31.78" fill="#fff" stroke="#111" stroke-width="1.3" stroke-linejoin="miter"/>
<text x="390.50" y="33.10" font-size="9.6" text-anchor="start" font-weight="normal" font-style="normal" fill="#1a1a1a" stroke="#1a1a1a" stroke-width="0.22" >PBS</text>
<line x1="369.50" y1="44.60" x2="388.50" y2="44.60" stroke="#2fc02f" stroke-width="1.5" />
<polygon points="376.60,42.68 381.40,42.68 379.00,46.88" fill="#2fc02f" stroke="#2fc02f" stroke-width="1.3" stroke-linejoin="miter"/>
<text x="390.50" y="48.20" font-size="9.6" text-anchor="start" font-weight="normal" font-style="normal" fill="#1a1a1a" stroke="#1a1a1a" stroke-width="0.22" >BCP8 mAb only</text>
<line x1="369.50" y1="59.50" x2="388.50" y2="59.50" stroke="#1f3fd8" stroke-width="1.5" />
<polygon points="379.00,57.10 381.40,59.50 379.00,61.90 376.60,59.50" fill="#1f3fd8" stroke="#1f3fd8" stroke-width="0.78"/>
<text x="390.50" y="63.10" font-size="9.6" text-anchor="start" font-weight="normal" font-style="normal" fill="#1a1a1a" stroke="#1a1a1a" stroke-width="0.22" >PGG <tspan font-family='Liberation Serif' stroke-width='0'>&#946;</tspan>-glucan only</text>
<line x1="369.50" y1="74.40" x2="388.50" y2="74.40" stroke="#ee3b24" stroke-width="1.5" />
<polygon points="376.60,76.32 381.40,76.32 379.00,72.12" fill="#fff" stroke="#ee3b24" stroke-width="1.3" stroke-linejoin="miter"/>
<text x="390.50" y="78.00" font-size="9.6" text-anchor="start" font-weight="normal" font-style="normal" fill="#1a1a1a" stroke="#1a1a1a" stroke-width="0.22" >PGG <tspan font-family='Liberation Serif' stroke-width='0'>&#946;</tspan>-glucan+BCP8 mAb</text>
<line x1="48.00" y1="409.70" x2="228.30" y2="409.70" stroke="#111" stroke-width="1.8" stroke-linecap="square"/>
<line x1="48.00" y1="409.70" x2="48.00" y2="289.70" stroke="#111" stroke-width="1.8" stroke-linecap="square"/>
<line x1="44.20" y1="409.70" x2="48.00" y2="409.70" stroke="#111" stroke-width="1.2" />
<text x="42.40" y="413.30" font-size="8.7" text-anchor="end" font-weight="normal" font-style="normal" fill="#1a1a1a" stroke="#1a1a1a" stroke-width="0.22" >0</text>
<line x1="44.20" y1="394.70" x2="48.00" y2="394.70" stroke="#111" stroke-width="1.2" />
<text x="42.40" y="398.30" font-size="8.7" text-anchor="end" font-weight="normal" font-style="normal" fill="#1a1a1a" stroke="#1a1a1a" stroke-width="0.22" >2</text>
<line x1="44.20" y1="379.70" x2="48.00" y2="379.70" stroke="#111" stroke-width="1.2" />
<text x="42.40" y="383.30" font-size="8.7" text-anchor="end" font-weight="normal" font-style="normal" fill="#1a1a1a" stroke="#1a1a1a" stroke-width="0.22" >4</text>
<line x1="44.20" y1="364.70" x2="48.00" y2="364.70" stroke="#111" stroke-width="1.2" />
<text x="42.40" y="368.30" font-size="8.7" text-anchor="end" font-weight="normal" font-style="normal" fill="#1a1a1a" stroke="#1a1a1a" stroke-width="0.22" >6</text>
<line x1="44.20" y1="349.70" x2="48.00" y2="349.70" stroke="#111" stroke-width="1.2" />
<text x="42.40" y="353.30" font-size="8.7" text-anchor="end" font-weight="normal" font-style="normal" fill="#1a1a1a" stroke="#1a1a1a" stroke-width="0.22" >8</text>
<line x1="44.20" y1="334.70" x2="48.00" y2="334.70" stroke="#111" stroke-width="1.2" />
<text x="42.40" y="338.30" font-size="8.7" text-anchor="end" font-weight="normal" font-style="normal" fill="#1a1a1a" stroke="#1a1a1a" stroke-width="0.22" >10</text>
<line x1="44.20" y1="319.70" x2="48.00" y2="319.70" stroke="#111" stroke-width="1.2" />
<text x="42.40" y="323.30" font-size="8.7" text-anchor="end" font-weight="normal" font-style="normal" fill="#1a1a1a" stroke="#1a1a1a" stroke-width="0.22" >12</text>
<line x1="44.20" y1="304.70" x2="48.00" y2="304.70" stroke="#111" stroke-width="1.2" />
<text x="42.40" y="308.30" font-size="8.7" text-anchor="end" font-weight="normal" font-style="normal" fill="#1a1a1a" stroke="#1a1a1a" stroke-width="0.22" >14</text>
<line x1="44.20" y1="289.70" x2="48.00" y2="289.70" stroke="#111" stroke-width="1.2" />
<text x="42.40" y="293.30" font-size="8.7" text-anchor="end" font-weight="normal" font-style="normal" fill="#1a1a1a" stroke="#1a1a1a" stroke-width="0.22" >16</text>
<line x1="48.00" y1="409.70" x2="48.00" y2="413.50" stroke="#111" stroke-width="1.2" />
<text x="48.00" y="422.30" font-size="9.3" text-anchor="middle" font-weight="normal" font-style="normal" fill="#1a1a1a" stroke="#1a1a1a" stroke-width="0.22" >0</text>
<line x1="108.10" y1="409.70" x2="108.10" y2="413.50" stroke="#111" stroke-width="1.2" />
<text x="108.10" y="422.30" font-size="9.3" text-anchor="middle" font-weight="normal" font-style="normal" fill="#1a1a1a" stroke="#1a1a1a" stroke-width="0.22" >10</text>
<line x1="168.20" y1="409.70" x2="168.20" y2="413.50" stroke="#111" stroke-width="1.2" />
<text x="168.20" y="422.30" font-size="9.3" text-anchor="middle" font-weight="normal" font-style="normal" fill="#1a1a1a" stroke="#1a1a1a" stroke-width="0.22" >20</text>
<line x1="228.30" y1="409.70" x2="228.30" y2="413.50" stroke="#111" stroke-width="1.2" />
<text x="228.30" y="422.30" font-size="9.3" text-anchor="middle" font-weight="normal" font-style="normal" fill="#1a1a1a" stroke="#1a1a1a" stroke-width="0.22" >30</text>
<text x="138.00" y="435.00" font-size="10" text-anchor="middle" font-weight="normal" font-style="normal" fill="#1a1a1a" letter-spacing="0.24" word-spacing="2.4" stroke="#1a1a1a" stroke-width="0.25">Days post tumor implantation</text>
<text x="20.00" y="354.30" font-size="10.45" text-anchor="middle" font-weight="normal" font-style="normal" fill="#1a1a1a" stroke="#1a1a1a" stroke-width="0.22" transform="rotate(-90 20.0 354.3)" >Tumor diameter (mm)</text>
<line x1="96.08" y1="372.57" x2="96.08" y2="376.32" stroke="#111" stroke-width="1.5" />
<line x1="93.28" y1="372.57" x2="98.88" y2="372.57" stroke="#111" stroke-width="1.5" />
<line x1="93.28" y1="376.32" x2="98.88" y2="376.32" stroke="#111" stroke-width="1.5" />
<line x1="114.11" y1="360.20" x2="114.11" y2="367.70" stroke="#111" stroke-width="1.5" />
<line x1="111.31" y1="360.20" x2="116.91" y2="360.20" stroke="#111" stroke-width="1.5" />
<line x1="111.31" y1="367.70" x2="116.91" y2="367.70" stroke="#111" stroke-width="1.5" />
<line x1="138.15" y1="351.57" x2="138.15" y2="354.57" stroke="#111" stroke-width="1.5" />
<line x1="135.35" y1="351.57" x2="140.95" y2="351.57" stroke="#111" stroke-width="1.5" />
<line x1="135.35" y1="354.57" x2="140.95" y2="354.57" stroke="#111" stroke-width="1.5" />
<line x1="156.18" y1="326.82" x2="156.18" y2="332.82" stroke="#111" stroke-width="1.5" />
<line x1="153.38" y1="326.82" x2="158.98" y2="326.82" stroke="#111" stroke-width="1.5" />
<line x1="153.38" y1="332.82" x2="158.98" y2="332.82" stroke="#111" stroke-width="1.5" />
<line x1="174.21" y1="301.70" x2="174.21" y2="307.70" stroke="#111" stroke-width="1.5" />
<line x1="171.41" y1="301.70" x2="177.01" y2="301.70" stroke="#111" stroke-width="1.5" />
<line x1="171.41" y1="307.70" x2="177.01" y2="307.70" stroke="#111" stroke-width="1.5" />
<polyline points="96.08,374.45 114.11,363.95 138.15,353.07 156.18,329.82 174.21,304.70" fill="none" stroke="#111" stroke-width="2.0" stroke-linejoin="miter" />
<polygon points="93.28,372.21 98.88,372.21 96.08,377.11" fill="#111" stroke="#111" stroke-width="1.2" stroke-linejoin="miter"/>
<polygon points="111.31,361.71 116.91,361.71 114.11,366.61" fill="#111" stroke="#111" stroke-width="1.2" stroke-linejoin="miter"/>
<polygon points="135.35,350.83 140.95,350.83 138.15,355.74" fill="#111" stroke="#111" stroke-width="1.2" stroke-linejoin="miter"/>
<polygon points="153.38,327.58 158.98,327.58 156.18,332.49" fill="#111" stroke="#111" stroke-width="1.2" stroke-linejoin="miter"/>
<polygon points="171.41,302.46 177.01,302.46 174.21,307.36" fill="#111" stroke="#111" stroke-width="1.2" stroke-linejoin="miter"/>
<line x1="96.08" y1="378.20" x2="96.08" y2="381.20" stroke="#1c8c1c" stroke-width="1.5" />
<line x1="93.28" y1="378.20" x2="98.88" y2="378.20" stroke="#1c8c1c" stroke-width="1.5" />
<line x1="93.28" y1="381.20" x2="98.88" y2="381.20" stroke="#1c8c1c" stroke-width="1.5" />
<line x1="114.11" y1="360.95" x2="114.11" y2="365.45" stroke="#1c8c1c" stroke-width="1.5" />
<line x1="111.31" y1="360.95" x2="116.91" y2="360.95" stroke="#1c8c1c" stroke-width="1.5" />
<line x1="111.31" y1="365.45" x2="116.91" y2="365.45" stroke="#1c8c1c" stroke-width="1.5" />
<line x1="138.15" y1="351.95" x2="138.15" y2="354.95" stroke="#1c8c1c" stroke-width="1.5" />
<line x1="135.35" y1="351.95" x2="140.95" y2="351.95" stroke="#1c8c1c" stroke-width="1.5" />
<line x1="135.35" y1="354.95" x2="140.95" y2="354.95" stroke="#1c8c1c" stroke-width="1.5" />
<line x1="156.18" y1="327.95" x2="156.18" y2="332.45" stroke="#1c8c1c" stroke-width="1.5" />
<line x1="153.38" y1="327.95" x2="158.98" y2="327.95" stroke="#1c8c1c" stroke-width="1.5" />
<line x1="153.38" y1="332.45" x2="158.98" y2="332.45" stroke="#1c8c1c" stroke-width="1.5" />
<line x1="174.21" y1="303.20" x2="174.21" y2="316.70" stroke="#1c8c1c" stroke-width="1.5" />
<line x1="171.41" y1="303.20" x2="177.01" y2="303.20" stroke="#1c8c1c" stroke-width="1.5" />
<line x1="171.41" y1="316.70" x2="177.01" y2="316.70" stroke="#1c8c1c" stroke-width="1.5" />
<polyline points="96.08,379.70 114.11,363.20 138.15,353.45 156.18,330.20 174.21,309.95" fill="none" stroke="#1c8c1c" stroke-width="2.2" stroke-linejoin="miter" />
<polygon points="93.28,377.46 98.88,377.46 96.08,382.36" fill="#1c8c1c" stroke="#1c8c1c" stroke-width="1.2" stroke-linejoin="miter"/>
<polygon points="111.31,360.96 116.91,360.96 114.11,365.86" fill="#1c8c1c" stroke="#1c8c1c" stroke-width="1.2" stroke-linejoin="miter"/>
<polygon points="135.35,351.21 140.95,351.21 138.15,356.11" fill="#1c8c1c" stroke="#1c8c1c" stroke-width="1.2" stroke-linejoin="miter"/>
<polygon points="153.38,327.96 158.98,327.96 156.18,332.86" fill="#1c8c1c" stroke="#1c8c1c" stroke-width="1.2" stroke-linejoin="miter"/>
<polygon points="171.41,307.71 177.01,307.71 174.21,312.61" fill="#1c8c1c" stroke="#1c8c1c" stroke-width="1.2" stroke-linejoin="miter"/>
<line x1="96.08" y1="378.20" x2="96.08" y2="381.20" stroke="#ee3b24" stroke-width="1.5" />
<line x1="93.28" y1="378.20" x2="98.88" y2="378.20" stroke="#ee3b24" stroke-width="1.5" />
<line x1="93.28" y1="381.20" x2="98.88" y2="381.20" stroke="#ee3b24" stroke-width="1.5" />
<line x1="114.11" y1="360.57" x2="114.11" y2="365.07" stroke="#ee3b24" stroke-width="1.5" />
<line x1="111.31" y1="360.57" x2="116.91" y2="360.57" stroke="#ee3b24" stroke-width="1.5" />
<line x1="111.31" y1="365.07" x2="116.91" y2="365.07" stroke="#ee3b24" stroke-width="1.5" />
<line x1="138.15" y1="359.82" x2="138.15" y2="362.82" stroke="#ee3b24" stroke-width="1.5" />
<line x1="135.35" y1="359.82" x2="140.95" y2="359.82" stroke="#ee3b24" stroke-width="1.5" />
<line x1="135.35" y1="362.82" x2="140.95" y2="362.82" stroke="#ee3b24" stroke-width="1.5" />
<line x1="156.18" y1="341.45" x2="156.18" y2="345.95" stroke="#ee3b24" stroke-width="1.5" />
<line x1="153.38" y1="341.45" x2="158.98" y2="341.45" stroke="#ee3b24" stroke-width="1.5" />
<line x1="153.38" y1="345.95" x2="158.98" y2="345.95" stroke="#ee3b24" stroke-width="1.5" />
<line x1="174.21" y1="329.82" x2="174.21" y2="338.07" stroke="#ee3b24" stroke-width="1.5" />
<line x1="171.41" y1="329.82" x2="177.01" y2="329.82" stroke="#ee3b24" stroke-width="1.5" />
<line x1="171.41" y1="338.07" x2="177.01" y2="338.07" stroke="#ee3b24" stroke-width="1.5" />
<polyline points="96.08,379.70 114.11,362.82 138.15,361.32 156.18,343.70 174.21,333.95" fill="none" stroke="#ee3b24" stroke-width="1.8" stroke-linejoin="miter" />
<polygon points="93.48,381.78 98.68,381.78 96.08,377.23" fill="#fff" stroke="#ee3b24" stroke-width="1.5" stroke-linejoin="miter"/>
<polygon points="111.51,364.90 116.71,364.90 114.11,360.35" fill="#fff" stroke="#ee3b24" stroke-width="1.5" stroke-linejoin="miter"/>
<polygon points="135.55,363.40 140.75,363.40 138.15,358.85" fill="#fff" stroke="#ee3b24" stroke-width="1.5" stroke-linejoin="miter"/>
<polygon points="153.58,345.78 158.78,345.78 156.18,341.23" fill="#fff" stroke="#ee3b24" stroke-width="1.5" stroke-linejoin="miter"/>
<polygon points="171.61,336.03 176.81,336.03 174.21,331.48" fill="#fff" stroke="#ee3b24" stroke-width="1.5" stroke-linejoin="miter"/>
<line x1="97.28" y1="390.60" x2="97.28" y2="402.00" stroke="#111" stroke-width="1.4" />
<line x1="183.22" y1="390.60" x2="183.22" y2="402.00" stroke="#111" stroke-width="1.4" />
<line x1="97.28" y1="396.30" x2="183.22" y2="396.30" stroke="#111" stroke-width="1.6" stroke-dasharray="2.9,2.3"/>
<text x="137.10" y="390.50" font-size="8.2" text-anchor="middle" font-weight="normal" font-style="normal" fill="#1a1a1a" stroke="#1a1a1a" stroke-width="0.22" letter-spacing="0.85">Therapy</text>
<path d="M181,305.3 H185.6 V331.3 H181" fill="none" stroke="#111" stroke-width="2.1"/>
<text x="187.60" y="320.40" font-size="9.2" text-anchor="start" font-weight="normal" font-style="italic" fill="#1a1a1a" stroke="#1a1a1a" stroke-width="0.22" letter-spacing="0.2">**<tspan>p&lt;0.01</tspan></text>
<line x1="56.50" y1="253.20" x2="73.50" y2="253.20" stroke="#111" stroke-width="1.5" />
<polygon points="62.60,251.28 67.40,251.28 65.00,255.48" fill="#111" stroke="#111" stroke-width="1.3" stroke-linejoin="miter"/>
<text x="75.50" y="256.80" font-size="10" text-anchor="start" font-weight="normal" font-style="normal" fill="#1a1a1a" stroke="#1a1a1a" stroke-width="0.22" >PBS (n=5)</text>
<line x1="56.50" y1="266.80" x2="73.50" y2="266.80" stroke="#1c8c1c" stroke-width="1.5" />
<polygon points="62.60,264.88 67.40,264.88 65.00,269.08" fill="#1c8c1c" stroke="#1c8c1c" stroke-width="1.3" stroke-linejoin="miter"/>
<text x="75.50" y="270.40" font-size="10" text-anchor="start" font-weight="normal" font-style="normal" fill="#1a1a1a" stroke="#1a1a1a" stroke-width="0.22" >Bcp8 mAb (n=5)</text>
<line x1="56.50" y1="281.00" x2="73.50" y2="281.00" stroke="#ee3b24" stroke-width="1.5" />
<polygon points="62.60,282.92 67.40,282.92 65.00,278.72" fill="#fff" stroke="#ee3b24" stroke-width="1.3" stroke-linejoin="miter"/>
<text x="75.50" y="284.60" font-size="10" text-anchor="start" font-weight="normal" font-style="normal" fill="#1a1a1a" stroke="#1a1a1a" stroke-width="0.22" >PGG <tspan font-family='Liberation Serif' stroke-width='0'>&#946;</tspan>-glucan+BCP8 mAb (n=5)</text>
<line x1="291.20" y1="408.70" x2="472.40" y2="408.70" stroke="#111" stroke-width="1.5" stroke-linecap="square"/>
<line x1="291.20" y1="408.70" x2="291.20" y2="288.70" stroke="#111" stroke-width="1.5" stroke-linecap="square"/>
<line x1="287.20" y1="408.70" x2="291.20" y2="408.70" stroke="#111" stroke-width="1.2" />
<text x="286.50" y="413.10" font-size="9.6" text-anchor="end" font-weight="normal" font-style="normal" fill="#1a1a1a" stroke="#1a1a1a" stroke-width="0.22" >0</text>
<line x1="287.20" y1="393.70" x2="291.20" y2="393.70" stroke="#111" stroke-width="1.2" />
<text x="286.50" y="398.10" font-size="9.6" text-anchor="end" font-weight="normal" font-style="normal" fill="#1a1a1a" stroke="#1a1a1a" stroke-width="0.22" >2</text>
<line x1="287.20" y1="378.70" x2="291.20" y2="378.70" stroke="#111" stroke-width="1.2" />
<text x="286.50" y="383.10" font-size="9.6" text-anchor="end" font-weight="normal" font-style="normal" fill="#1a1a1a" stroke="#1a1a1a" stroke-width="0.22" >4</text>
<line x1="287.20" y1="363.70" x2="291.20" y2="363.70" stroke="#111" stroke-width="1.2" />
<text x="286.50" y="368.10" font-size="9.6" text-anchor="end" font-weight="normal" font-style="normal" fill="#1a1a1a" stroke="#1a1a1a" stroke-width="0.22" >6</text>
<line x1="287.20" y1="348.70" x2="291.20" y2="348.70" stroke="#111" stroke-width="1.2" />
<text x="286.50" y="353.10" font-size="9.6" text-anchor="end" font-weight="normal" font-style="normal" fill="#1a1a1a" stroke="#1a1a1a" stroke-width="0.22" >8</text>
<line x1="287.20" y1="333.70" x2="291.20" y2="333.70" stroke="#111" stroke-width="1.2" />
<text x="286.50" y="338.10" font-size="9.6" text-anchor="end" font-weight="normal" font-style="normal" fill="#1a1a1a" stroke="#1a1a1a" stroke-width="0.22" >10</text>
<line x1="287.20" y1="318.70" x2="291.20" y2="318.70" stroke="#111" stroke-width="1.2" />
<text x="286.50" y="323.10" font-size="9.6" text-anchor="end" font-weight="normal" font-style="normal" fill="#1a1a1a" stroke="#1a1a1a" stroke-width="0.22" >12</text>
<line x1="287.20" y1="303.70" x2="291.20" y2="303.70" stroke="#111" stroke-width="1.2" />
<text x="286.50" y="308.10" font-size="9.6" text-anchor="end" font-weight="normal" font-style="normal" fill="#1a1a1a" stroke="#1a1a1a" stroke-width="0.22" >14</text>
<line x1="287.20" y1="288.70" x2="291.20" y2="288.70" stroke="#111" stroke-width="1.2" />
<text x="286.50" y="293.10" font-size="9.6" text-anchor="end" font-weight="normal" font-style="normal" fill="#1a1a1a" stroke="#1a1a1a" stroke-width="0.22" >16</text>
<text x="291.20" y="418.70" font-size="9.6" text-anchor="middle" font-weight="normal" font-style="normal" fill="#1a1a1a" stroke="#1a1a1a" stroke-width="0.22" >0</text>
<text x="351.60" y="418.70" font-size="9.6" text-anchor="middle" font-weight="normal" font-style="normal" fill="#1a1a1a" stroke="#1a1a1a" stroke-width="0.22" >10</text>
<text x="412.00" y="418.70" font-size="9.6" text-anchor="middle" font-weight="normal" font-style="normal" fill="#1a1a1a" stroke="#1a1a1a" stroke-width="0.22" >20</text>
<text x="472.40" y="418.70" font-size="9.6" text-anchor="middle" font-weight="normal" font-style="normal" fill="#1a1a1a" stroke="#1a1a1a" stroke-width="0.22" >30</text>
<text x="387.60" y="432.70" font-size="10.5" text-anchor="middle" font-weight="normal" font-style="normal" fill="#1a1a1a" stroke="#1a1a1a" stroke-width="0.22" word-spacing="2.1">Days post tumor implantation</text>
<text x="271.70" y="348.00" font-size="10.3" text-anchor="middle" font-weight="bold" font-style="normal" fill="#1a1a1a" stroke="#1a1a1a" stroke-width="0.22" transform="rotate(-90 271.7 348.0)" >Tumor diameter (mm)</text>
<line x1="327.44" y1="381.70" x2="327.44" y2="383.20" stroke="#111" stroke-width="1.3" />
<line x1="324.64" y1="381.70" x2="330.24" y2="381.70" stroke="#111" stroke-width="1.3" />
<line x1="324.64" y1="383.20" x2="330.24" y2="383.20" stroke="#111" stroke-width="1.3" />
<line x1="345.56" y1="372.70" x2="345.56" y2="374.20" stroke="#111" stroke-width="1.3" />
<line x1="342.76" y1="372.70" x2="348.36" y2="372.70" stroke="#111" stroke-width="1.3" />
<line x1="342.76" y1="374.20" x2="348.36" y2="374.20" stroke="#111" stroke-width="1.3" />
<line x1="363.68" y1="362.95" x2="363.68" y2="364.45" stroke="#111" stroke-width="1.3" />
<line x1="360.88" y1="362.95" x2="366.48" y2="362.95" stroke="#111" stroke-width="1.3" />
<line x1="360.88" y1="364.45" x2="366.48" y2="364.45" stroke="#111" stroke-width="1.3" />
<line x1="381.80" y1="343.82" x2="381.80" y2="348.32" stroke="#111" stroke-width="1.3" />
<line x1="379.00" y1="343.82" x2="384.60" y2="343.82" stroke="#111" stroke-width="1.3" />
<line x1="379.00" y1="348.32" x2="384.60" y2="348.32" stroke="#111" stroke-width="1.3" />
<line x1="399.92" y1="310.82" x2="399.92" y2="330.32" stroke="#111" stroke-width="1.3" />
<line x1="397.12" y1="310.82" x2="402.72" y2="310.82" stroke="#111" stroke-width="1.3" />
<line x1="397.12" y1="330.32" x2="402.72" y2="330.32" stroke="#111" stroke-width="1.3" />
<line x1="418.04" y1="300.70" x2="418.04" y2="308.20" stroke="#111" stroke-width="1.3" />
<line x1="415.24" y1="300.70" x2="420.84" y2="300.70" stroke="#111" stroke-width="1.3" />
<line x1="415.24" y1="308.20" x2="420.84" y2="308.20" stroke="#111" stroke-width="1.3" />
<line x1="436.16" y1="294.70" x2="436.16" y2="299.20" stroke="#111" stroke-width="1.3" />
<line x1="433.36" y1="294.70" x2="438.96" y2="294.70" stroke="#111" stroke-width="1.3" />
<line x1="433.36" y1="299.20" x2="438.96" y2="299.20" stroke="#111" stroke-width="1.3" />
<polyline points="327.44,382.45 345.56,373.45 363.68,363.70 381.80,346.07 399.92,320.57 418.04,304.45 436.16,296.95" fill="none" stroke="#111" stroke-width="2.0" stroke-linejoin="miter" />
<polygon points="324.44,380.05 330.44,380.05 327.44,385.30" fill="#111" stroke="#111" stroke-width="1.2" stroke-linejoin="miter"/>
<polygon points="342.56,371.05 348.56,371.05 345.56,376.30" fill="#111" stroke="#111" stroke-width="1.2" stroke-linejoin="miter"/>
<polygon points="360.68,361.30 366.68,361.30 363.68,366.55" fill="#111" stroke="#111" stroke-width="1.2" stroke-linejoin="miter"/>
<polygon points="378.80,343.68 384.80,343.68 381.80,348.93" fill="#111" stroke="#111" stroke-width="1.2" stroke-linejoin="miter"/>
<polygon points="396.92,318.18 402.92,318.18 399.92,323.43" fill="#111" stroke="#111" stroke-width="1.2" stroke-linejoin="miter"/>
<polygon points="415.04,302.05 421.04,302.05 418.04,307.30" fill="#111" stroke="#111" stroke-width="1.2" stroke-linejoin="miter"/>
<polygon points="433.16,294.55 439.16,294.55 436.16,299.80" fill="#111" stroke="#111" stroke-width="1.2" stroke-linejoin="miter"/>
<line x1="327.44" y1="381.70" x2="327.44" y2="383.20" stroke="#2fc02f" stroke-width="1.3" />
<line x1="324.64" y1="381.70" x2="330.24" y2="381.70" stroke="#2fc02f" stroke-width="1.3" />
<line x1="324.64" y1="383.20" x2="330.24" y2="383.20" stroke="#2fc02f" stroke-width="1.3" />
<line x1="345.56" y1="372.70" x2="345.56" y2="374.20" stroke="#2fc02f" stroke-width="1.3" />
<line x1="342.76" y1="372.70" x2="348.36" y2="372.70" stroke="#2fc02f" stroke-width="1.3" />
<line x1="342.76" y1="374.20" x2="348.36" y2="374.20" stroke="#2fc02f" stroke-width="1.3" />
<line x1="363.68" y1="363.70" x2="363.68" y2="365.20" stroke="#2fc02f" stroke-width="1.3" />
<line x1="360.88" y1="363.70" x2="366.48" y2="363.70" stroke="#2fc02f" stroke-width="1.3" />
<line x1="360.88" y1="365.20" x2="366.48" y2="365.20" stroke="#2fc02f" stroke-width="1.3" />
<line x1="381.80" y1="349.45" x2="381.80" y2="374.95" stroke="#2fc02f" stroke-width="1.3" />
<line x1="379.00" y1="349.45" x2="384.60" y2="349.45" stroke="#2fc02f" stroke-width="1.3" />
<line x1="379.00" y1="374.95" x2="384.60" y2="374.95" stroke="#2fc02f" stroke-width="1.3" />
<line x1="399.92" y1="304.07" x2="399.92" y2="347.57" stroke="#2fc02f" stroke-width="1.3" />
<line x1="397.12" y1="304.07" x2="402.72" y2="304.07" stroke="#2fc02f" stroke-width="1.3" />
<line x1="397.12" y1="347.57" x2="402.72" y2="347.57" stroke="#2fc02f" stroke-width="1.3" />
<line x1="418.04" y1="305.20" x2="418.04" y2="342.70" stroke="#2fc02f" stroke-width="1.3" />
<line x1="415.24" y1="305.20" x2="420.84" y2="305.20" stroke="#2fc02f" stroke-width="1.3" />
<line x1="415.24" y1="342.70" x2="420.84" y2="342.70" stroke="#2fc02f" stroke-width="1.3" />
<line x1="436.16" y1="296.95" x2="436.16" y2="341.95" stroke="#2fc02f" stroke-width="1.3" />
<line x1="433.36" y1="296.95" x2="438.96" y2="296.95" stroke="#2fc02f" stroke-width="1.3" />
<line x1="433.36" y1="341.95" x2="438.96" y2="341.95" stroke="#2fc02f" stroke-width="1.3" />
<polyline points="327.44,382.45 345.56,373.45 363.68,364.45 381.80,362.20 399.92,325.82 418.04,323.95 436.16,319.45" fill="none" stroke="#2fc02f" stroke-width="2.0" stroke-linejoin="miter" />
<polygon points="324.44,380.05 330.44,380.05 327.44,385.30" fill="#2fc02f" stroke="#2fc02f" stroke-width="1.2" stroke-linejoin="miter"/>
<polygon points="342.56,371.05 348.56,371.05 345.56,376.30" fill="#2fc02f" stroke="#2fc02f" stroke-width="1.2" stroke-linejoin="miter"/>
<polygon points="360.68,362.05 366.68,362.05 363.68,367.30" fill="#2fc02f" stroke="#2fc02f" stroke-width="1.2" stroke-linejoin="miter"/>
<polygon points="378.80,359.80 384.80,359.80 381.80,365.05" fill="#2fc02f" stroke="#2fc02f" stroke-width="1.2" stroke-linejoin="miter"/>
<polygon points="396.92,323.43 402.92,323.43 399.92,328.68" fill="#2fc02f" stroke="#2fc02f" stroke-width="1.2" stroke-linejoin="miter"/>
<polygon points="415.04,321.55 421.04,321.55 418.04,326.80" fill="#2fc02f" stroke="#2fc02f" stroke-width="1.2" stroke-linejoin="miter"/>
<polygon points="433.16,317.05 439.16,317.05 436.16,322.30" fill="#2fc02f" stroke="#2fc02f" stroke-width="1.2" stroke-linejoin="miter"/>
<line x1="327.44" y1="382.07" x2="327.44" y2="383.57" stroke="#e0452a" stroke-width="1.3" />
<line x1="324.64" y1="382.07" x2="330.24" y2="382.07" stroke="#e0452a" stroke-width="1.3" />
<line x1="324.64" y1="383.57" x2="330.24" y2="383.57" stroke="#e0452a" stroke-width="1.3" />
<line x1="345.56" y1="375.32" x2="345.56" y2="376.82" stroke="#e0452a" stroke-width="1.3" />
<line x1="342.76" y1="375.32" x2="348.36" y2="375.32" stroke="#e0452a" stroke-width="1.3" />
<line x1="342.76" y1="376.82" x2="348.36" y2="376.82" stroke="#e0452a" stroke-width="1.3" />
<line x1="363.68" y1="367.45" x2="363.68" y2="370.45" stroke="#e0452a" stroke-width="1.3" />
<line x1="360.88" y1="367.45" x2="366.48" y2="367.45" stroke="#e0452a" stroke-width="1.3" />
<line x1="360.88" y1="370.45" x2="366.48" y2="370.45" stroke="#e0452a" stroke-width="1.3" />
<line x1="381.80" y1="352.45" x2="381.80" y2="376.45" stroke="#e0452a" stroke-width="1.3" />
<line x1="379.00" y1="352.45" x2="384.60" y2="352.45" stroke="#e0452a" stroke-width="1.3" />
<line x1="379.00" y1="376.45" x2="384.60" y2="376.45" stroke="#e0452a" stroke-width="1.3" />
<line x1="399.92" y1="319.45" x2="399.92" y2="359.95" stroke="#e0452a" stroke-width="1.3" />
<line x1="397.12" y1="319.45" x2="402.72" y2="319.45" stroke="#e0452a" stroke-width="1.3" />
<line x1="397.12" y1="359.95" x2="402.72" y2="359.95" stroke="#e0452a" stroke-width="1.3" />
<line x1="418.04" y1="307.45" x2="418.04" y2="346.45" stroke="#e0452a" stroke-width="1.3" />
<line x1="415.24" y1="307.45" x2="420.84" y2="307.45" stroke="#e0452a" stroke-width="1.3" />
<line x1="415.24" y1="346.45" x2="420.84" y2="346.45" stroke="#e0452a" stroke-width="1.3" />
<line x1="436.16" y1="296.95" x2="436.16" y2="341.95" stroke="#e0452a" stroke-width="1.3" />
<line x1="433.36" y1="296.95" x2="438.96" y2="296.95" stroke="#e0452a" stroke-width="1.3" />
<line x1="433.36" y1="341.95" x2="438.96" y2="341.95" stroke="#e0452a" stroke-width="1.3" />
<polyline points="327.44,382.82 345.56,376.07 363.68,368.95 381.80,364.45 399.92,339.70 418.04,326.95 436.16,319.45" fill="none" stroke="#e0452a" stroke-width="2.0" stroke-linejoin="miter" />
<polygon points="324.44,385.22 330.44,385.22 327.44,379.97" fill="#fff" stroke="#e0452a" stroke-width="1.4" stroke-linejoin="miter"/>
<polygon points="342.56,378.47 348.56,378.47 345.56,373.22" fill="#fff" stroke="#e0452a" stroke-width="1.4" stroke-linejoin="miter"/>
<polygon points="360.68,371.35 366.68,371.35 363.68,366.10" fill="#fff" stroke="#e0452a" stroke-width="1.4" stroke-linejoin="miter"/>
<polygon points="378.80,366.85 384.80,366.85 381.80,361.60" fill="#fff" stroke="#e0452a" stroke-width="1.4" stroke-linejoin="miter"/>
<polygon points="396.92,342.10 402.92,342.10 399.92,336.85" fill="#fff" stroke="#e0452a" stroke-width="1.4" stroke-linejoin="miter"/>
<polygon points="415.04,329.35 421.04,329.35 418.04,324.10" fill="#fff" stroke="#e0452a" stroke-width="1.4" stroke-linejoin="miter"/>
<polygon points="433.16,321.85 439.16,321.85 436.16,316.60" fill="#fff" stroke="#e0452a" stroke-width="1.4" stroke-linejoin="miter"/>
<line x1="326.23" y1="393.50" x2="326.23" y2="404.50" stroke="#111" stroke-width="1.4" />
<line x1="438.58" y1="393.50" x2="438.58" y2="404.50" stroke="#111" stroke-width="1.4" />
<line x1="326.23" y1="399.00" x2="438.58" y2="399.00" stroke="#111" stroke-width="1.4" stroke-dasharray="1.4,1.4"/>
<text x="387.10" y="393.80" font-size="8.2" text-anchor="middle" font-weight="normal" font-style="normal" fill="#1a1a1a" stroke="#1a1a1a" stroke-width="0.22" letter-spacing="0.85">Therapy</text>
<line x1="303.00" y1="255.60" x2="321.50" y2="255.60" stroke="#111" stroke-width="1.5" />
<polygon points="309.85,253.68 314.65,253.68 312.25,257.88" fill="#111" stroke="#111" stroke-width="1.3" stroke-linejoin="miter"/>
<text x="323.50" y="259.20" font-size="10" text-anchor="start" font-weight="normal" font-style="normal" fill="#1a1a1a" stroke="#1a1a1a" stroke-width="0.22" >PBS (n=5)</text>
<line x1="303.00" y1="270.40" x2="321.50" y2="270.40" stroke="#2fc02f" stroke-width="1.5" />
<polygon points="309.85,268.48 314.65,268.48 312.25,272.68" fill="#2fc02f" stroke="#2fc02f" stroke-width="1.3" stroke-linejoin="miter"/>
<text x="323.50" y="274.00" font-size="10" text-anchor="start" font-weight="normal" font-style="normal" fill="#1a1a1a" stroke="#1a1a1a" stroke-width="0.22" >BCP8 mAb (n=5)</text>
<line x1="303.00" y1="284.40" x2="321.50" y2="284.40" stroke="#ee3b24" stroke-width="1.5" />
<polygon points="309.85,286.32 314.65,286.32 312.25,282.12" fill="#fff" stroke="#ee3b24" stroke-width="1.3" stroke-linejoin="miter"/>
<text x="323.50" y="288.00" font-size="10" text-anchor="start" font-weight="normal" font-style="normal" fill="#1a1a1a" stroke="#1a1a1a" stroke-width="0.22" >PGG <tspan font-family='Liberation Serif' stroke-width='0'>&#946;</tspan>-glucan+BCP8 mAb (n=5)</text>
<path d="M28.40,471.20 L131.90,471.20 L131.90,564.20" fill="none" stroke="#666" stroke-width="0.9"/>
<path d="M28.40,564.20 L28.40,564.20 L28.74,564.20 L29.08,564.20 L29.42,564.20 L29.77,564.20 L30.11,564.20 L30.45,564.20 L30.79,564.20 L31.13,564.20 L31.47,564.20 L31.81,564.20 L32.15,564.20 L32.50,564.20 L32.84,564.20 L33.18,564.20 L33.52,564.20 L33.86,564.20 L34.20,564.20 L34.54,564.20 L34.89,564.20 L35.23,564.20 L35.57,564.20 L35.91,564.20 L36.25,564.20 L36.59,564.20 L36.93,564.20 L37.27,564.20 L37.62,564.20 L37.96,564.20 L38.30,564.20 L38.64,564.20 L38.98,564.20 L39.32,564.20 L39.66,564.20 L40.01,564.20 L40.35,564.20 L40.69,564.20 L41.03,564.20 L41.37,564.20 L41.71,564.20 L42.05,564.20 L42.39,564.20 L42.74,564.20 L43.08,564.20 L43.42,564.20 L43.76,564.20 L44.10,564.20 L44.44,564.20 L44.78,564.20 L45.13,564.20 L45.47,564.20 L45.81,564.20 L46.15,564.20 L46.49,564.20 L46.83,564.20 L47.17,564.20 L47.51,564.19 L47.86,564.19 L48.20,564.19 L48.54,564.19 L48.88,564.19 L49.22,564.19 L49.56,564.19 L49.90,564.18 L50.25,564.18 L50.59,564.18 L50.93,564.17 L51.27,564.17 L51.61,564.16 L51.95,564.16 L52.29,564.15 L52.63,564.14 L52.98,564.13 L53.32,564.12 L53.66,564.11 L54.00,564.10 L54.34,564.08 L54.68,564.06 L55.02,564.04 L55.37,564.02 L55.71,564.00 L56.05,563.97 L56.39,563.94 L56.73,563.90 L57.07,563.87 L57.41,563.83 L57.75,563.78 L58.10,563.73 L58.44,563.68 L58.78,563.63 L59.12,563.57 L59.46,563.50 L59.80,563.44 L60.14,563.36 L60.49,563.29 L60.83,563.21 L61.17,563.13 L61.51,563.04 L61.85,562.95 L62.19,562.86 L62.53,562.77 L62.87,562.67 L63.22,562.57 L63.56,562.47 L63.90,562.37 L64.24,562.27 L64.58,562.17 L64.92,562.07 L65.26,561.96 L65.61,561.85 L65.95,561.74 L66.29,561.63 L66.63,561.51 L66.97,561.39 L67.31,561.25 L67.65,561.11 L67.99,560.96 L68.34,560.79 L68.68,560.60 L69.02,560.39 L69.36,560.16 L69.70,559.90 L70.04,559.60 L70.38,559.26 L70.73,558.88 L71.07,558.45 L71.41,557.97 L71.75,557.44 L72.09,556.85 L72.43,556.20 L72.77,555.49 L73.11,554.72 L73.46,553.89 L73.80,553.00 L74.14,552.07 L74.48,551.09 L74.82,550.08 L75.16,549.05 L75.50,548.00 L75.85,546.96 L76.19,545.94 L76.53,544.94 L76.87,544.00 L77.21,543.12 L77.55,542.32 L77.89,541.62 L78.23,541.02 L78.58,540.54 L78.92,540.20 L79.26,539.99 L79.60,539.92 L79.94,539.97 L80.28,540.12 L80.62,540.37 L80.97,540.71 L81.31,541.15 L81.65,541.66 L81.99,542.26 L82.33,542.92 L82.67,543.64 L83.01,544.41 L83.35,545.23 L83.70,546.07 L84.04,546.94 L84.38,547.82 L84.72,548.71 L85.06,549.59 L85.40,550.46 L85.74,551.31 L86.09,552.13 L86.43,552.93 L86.77,553.69 L87.11,554.42 L87.45,555.10 L87.79,555.74 L88.13,556.35 L88.47,556.90 L88.82,557.42 L89.16,557.89 L89.50,558.33 L89.84,558.72 L90.18,559.08 L90.52,559.41 L90.86,559.71 L91.21,559.97 L91.55,560.21 L91.89,560.43 L92.23,560.62 L92.57,560.80 L92.91,560.96 L93.25,561.10 L93.59,561.23 L93.94,561.35 L94.28,561.46 L94.62,561.56 L94.96,561.65 L95.30,561.74 L95.64,561.81 L95.98,561.89 L96.33,561.95 L96.67,562.01 L97.01,562.07 L97.35,562.12 L97.69,562.16 L98.03,562.20 L98.37,562.23 L98.71,562.26 L99.06,562.28 L99.40,562.29 L99.74,562.30 L100.08,562.30 L100.42,562.29 L100.76,562.28 L101.10,562.26 L101.45,562.24 L101.79,562.21 L102.13,562.17 L102.47,562.13 L102.81,562.09 L103.15,562.04 L103.49,561.98 L103.83,561.92 L104.18,561.86 L104.52,561.79 L104.86,561.71 L105.20,561.62 L105.54,561.52 L105.88,561.41 L106.22,561.29 L106.57,561.14 L106.91,560.97 L107.25,560.77 L107.59,560.54 L107.93,560.26 L108.27,559.93 L108.61,559.55 L108.95,559.11 L109.30,558.59 L109.64,558.00 L109.98,557.33 L110.32,556.58 L110.66,555.74 L111.00,554.81 L111.34,553.81 L111.69,552.73 L112.03,551.58 L112.37,550.38 L112.71,549.15 L113.05,547.91 L113.39,546.68 L113.73,545.47 L114.07,544.33 L114.42,543.28 L114.76,542.33 L115.10,541.52 L115.44,540.87 L115.78,540.39 L116.12,540.10 L116.46,540.00 L116.81,540.11 L117.15,540.44 L117.49,540.97 L117.83,541.69 L118.17,542.58 L118.51,543.62 L118.85,544.77 L119.19,546.00 L119.54,547.30 L119.88,548.62 L120.22,549.94 L120.56,551.24 L120.90,552.49 L121.24,553.68 L121.58,554.80 L121.93,555.83 L122.27,556.78 L122.61,557.63 L122.95,558.40 L123.29,559.08 L123.63,559.68 L123.97,560.20 L124.31,560.66 L124.66,561.05 L125.00,561.39 L125.34,561.69 L125.68,561.95 L126.02,562.17 L126.36,562.37 L126.70,562.54 L127.05,562.69 L127.39,562.83 L127.73,562.95 L128.07,563.06 L128.41,563.16 L128.75,563.25 L129.09,563.33 L129.43,563.41 L129.78,563.48 L130.12,563.55 L130.46,563.61 L130.80,563.67 L130.80,564.20 Z" fill="#000" stroke="#000" stroke-width="0.5"/>
<line x1="28.40" y1="471.20" x2="28.40" y2="564.20" stroke="#444" stroke-width="1.0" />
<line x1="28.40" y1="564.20" x2="131.90" y2="564.20" stroke="#111" stroke-width="1.1" />
<line x1="26.40" y1="564.20" x2="28.40" y2="564.20" stroke="#555" stroke-width="0.7" />
<text x="25.40" y="565.40" font-size="3.5" text-anchor="end" font-weight="normal" font-style="normal" fill="#555" stroke="#555" stroke-width="0.22" >0</text>
<line x1="27.40" y1="559.55" x2="28.40" y2="559.55" stroke="#888" stroke-width="0.5" />
<line x1="27.40" y1="554.90" x2="28.40" y2="554.90" stroke="#888" stroke-width="0.5" />
<line x1="27.40" y1="550.25" x2="28.40" y2="550.25" stroke="#888" stroke-width="0.5" />
<line x1="27.40" y1="545.60" x2="28.40" y2="545.60" stroke="#888" stroke-width="0.5" />
<line x1="26.40" y1="540.95" x2="28.40" y2="540.95" stroke="#555" stroke-width="0.7" />
<text x="25.40" y="542.15" font-size="3.5" text-anchor="end" font-weight="normal" font-style="normal" fill="#555" stroke="#555" stroke-width="0.22" >100</text>
<line x1="27.40" y1="536.30" x2="28.40" y2="536.30" stroke="#888" stroke-width="0.5" />
<line x1="27.40" y1="531.65" x2="28.40" y2="531.65" stroke="#888" stroke-width="0.5" />
<line x1="27.40" y1="527.00" x2="28.40" y2="527.00" stroke="#888" stroke-width="0.5" />
<line x1="27.40" y1="522.35" x2="28.40" y2="522.35" stroke="#888" stroke-width="0.5" />
<line x1="26.40" y1="517.70" x2="28.40" y2="517.70" stroke="#555" stroke-width="0.7" />
<text x="25.40" y="518.90" font-size="3.5" text-anchor="end" font-weight="normal" font-style="normal" fill="#555" stroke="#555" stroke-width="0.22" >200</text>
<line x1="27.40" y1="513.05" x2="28.40" y2="513.05" stroke="#888" stroke-width="0.5" />
<line x1="27.40" y1="508.40" x2="28.40" y2="508.40" stroke="#888" stroke-width="0.5" />
<line x1="27.40" y1="503.75" x2="28.40" y2="503.75" stroke="#888" stroke-width="0.5" />
<line x1="27.40" y1="499.10" x2="28.40" y2="499.10" stroke="#888" stroke-width="0.5" />
<line x1="26.40" y1="494.45" x2="28.40" y2="494.45" stroke="#555" stroke-width="0.7" />
<text x="25.40" y="495.65" font-size="3.5" text-anchor="end" font-weight="normal" font-style="normal" fill="#555" stroke="#555" stroke-width="0.22" >300</text>
<line x1="27.40" y1="489.80" x2="28.40" y2="489.80" stroke="#888" stroke-width="0.5" />
<line x1="27.40" y1="485.15" x2="28.40" y2="485.15" stroke="#888" stroke-width="0.5" />
<line x1="27.40" y1="480.50" x2="28.40" y2="480.50" stroke="#888" stroke-width="0.5" />
<line x1="27.40" y1="475.85" x2="28.40" y2="475.85" stroke="#888" stroke-width="0.5" />
<line x1="26.40" y1="471.20" x2="28.40" y2="471.20" stroke="#555" stroke-width="0.7" />
<text x="25.40" y="472.40" font-size="3.5" text-anchor="end" font-weight="normal" font-style="normal" fill="#555" stroke="#555" stroke-width="0.22" >400</text>
<line x1="28.40" y1="564.20" x2="28.40" y2="566.20" stroke="#555" stroke-width="0.7" />
<text x="28.40" y="570.70" font-size="3.6" text-anchor="middle" font-weight="normal" font-style="normal" fill="#555" stroke="#555" stroke-width="0.22" >10<tspan font-size='2.4' dy='-1.3'>0</tspan></text>
<line x1="36.11" y1="564.20" x2="36.11" y2="565.20" stroke="#999" stroke-width="0.4" />
<line x1="40.61" y1="564.20" x2="40.61" y2="565.20" stroke="#999" stroke-width="0.4" />
<line x1="43.81" y1="564.20" x2="43.81" y2="565.20" stroke="#999" stroke-width="0.4" />
<line x1="46.29" y1="564.20" x2="46.29" y2="565.20" stroke="#999" stroke-width="0.4" />
<line x1="48.32" y1="564.20" x2="48.32" y2="565.20" stroke="#999" stroke-width="0.4" />
<line x1="50.03" y1="564.20" x2="50.03" y2="565.20" stroke="#999" stroke-width="0.4" />
<line x1="51.52" y1="564.20" x2="51.52" y2="565.20" stroke="#999" stroke-width="0.4" />
<line x1="52.83" y1="564.20" x2="52.83" y2="565.20" stroke="#999" stroke-width="0.4" />
<line x1="54.00" y1="564.20" x2="54.00" y2="566.20" stroke="#555" stroke-width="0.7" />
<text x="54.00" y="570.70" font-size="3.6" text-anchor="middle" font-weight="normal" font-style="normal" fill="#555" stroke="#555" stroke-width="0.22" >10<tspan font-size='2.4' dy='-1.3'>1</tspan></text>
<line x1="61.71" y1="564.20" x2="61.71" y2="565.20" stroke="#999" stroke-width="0.4" />
<line x1="66.21" y1="564.20" x2="66.21" y2="565.20" stroke="#999" stroke-width="0.4" />
<line x1="69.41" y1="564.20" x2="69.41" y2="565.20" stroke="#999" stroke-width="0.4" />
<line x1="71.89" y1="564.20" x2="71.89" y2="565.20" stroke="#999" stroke-width="0.4" />
<line x1="73.92" y1="564.20" x2="73.92" y2="565.20" stroke="#999" stroke-width="0.4" />
<line x1="75.63" y1="564.20" x2="75.63" y2="565.20" stroke="#999" stroke-width="0.4" />
<line x1="77.12" y1="564.20" x2="77.12" y2="565.20" stroke="#999" stroke-width="0.4" />
<line x1="78.43" y1="564.20" x2="78.43" y2="565.20" stroke="#999" stroke-width="0.4" />
<line x1="79.60" y1="564.20" x2="79.60" y2="566.20" stroke="#555" stroke-width="0.7" />
<text x="79.60" y="570.70" font-size="3.6" text-anchor="middle" font-weight="normal" font-style="normal" fill="#555" stroke="#555" stroke-width="0.22" >10<tspan font-size='2.4' dy='-1.3'>2</tspan></text>
<line x1="87.31" y1="564.20" x2="87.31" y2="565.20" stroke="#999" stroke-width="0.4" />
<line x1="91.81" y1="564.20" x2="91.81" y2="565.20" stroke="#999" stroke-width="0.4" />
<line x1="95.01" y1="564.20" x2="95.01" y2="565.20" stroke="#999" stroke-width="0.4" />
<line x1="97.49" y1="564.20" x2="97.49" y2="565.20" stroke="#999" stroke-width="0.4" />
<line x1="99.52" y1="564.20" x2="99.52" y2="565.20" stroke="#999" stroke-width="0.4" />
<line x1="101.23" y1="564.20" x2="101.23" y2="565.20" stroke="#999" stroke-width="0.4" />
<line x1="102.72" y1="564.20" x2="102.72" y2="565.20" stroke="#999" stroke-width="0.4" />
<line x1="104.03" y1="564.20" x2="104.03" y2="565.20" stroke="#999" stroke-width="0.4" />
<line x1="105.20" y1="564.20" x2="105.20" y2="566.20" stroke="#555" stroke-width="0.7" />
<text x="105.20" y="570.70" font-size="3.6" text-anchor="middle" font-weight="normal" font-style="normal" fill="#555" stroke="#555" stroke-width="0.22" >10<tspan font-size='2.4' dy='-1.3'>3</tspan></text>
<line x1="112.91" y1="564.20" x2="112.91" y2="565.20" stroke="#999" stroke-width="0.4" />
<line x1="117.41" y1="564.20" x2="117.41" y2="565.20" stroke="#999" stroke-width="0.4" />
<line x1="120.61" y1="564.20" x2="120.61" y2="565.20" stroke="#999" stroke-width="0.4" />
<line x1="123.09" y1="564.20" x2="123.09" y2="565.20" stroke="#999" stroke-width="0.4" />
<line x1="125.12" y1="564.20" x2="125.12" y2="565.20" stroke="#999" stroke-width="0.4" />
<line x1="126.83" y1="564.20" x2="126.83" y2="565.20" stroke="#999" stroke-width="0.4" />
<line x1="128.32" y1="564.20" x2="128.32" y2="565.20" stroke="#999" stroke-width="0.4" />
<line x1="129.63" y1="564.20" x2="129.63" y2="565.20" stroke="#999" stroke-width="0.4" />
<line x1="130.80" y1="564.20" x2="130.80" y2="566.20" stroke="#555" stroke-width="0.7" />
<text x="130.80" y="570.70" font-size="3.6" text-anchor="middle" font-weight="normal" font-style="normal" fill="#555" stroke="#555" stroke-width="0.22" >10<tspan font-size='2.4' dy='-1.3'>4</tspan></text>
<text x="79.60" y="576.70" font-size="3.4" text-anchor="middle" font-weight="normal" font-style="normal" fill="#555" stroke="#555" stroke-width="0.22" >FL1-H</text>
<text x="13.90" y="517.70" font-size="3.8" text-anchor="middle" font-weight="normal" font-style="normal" fill="#333" stroke="#333" stroke-width="0.22" transform="rotate(-90 13.899999999999999 517.7)" ># Cells</text>
<text x="35.50" y="482.00" font-size="9" fill="#1a1a1a">Control</text>
<text x="88.60" y="520.40" font-size="9.1" text-anchor="middle" font-weight="normal" font-style="normal" fill="#1a1a1a" stroke="#1a1a1a" stroke-width="0.22" >0% lysis</text>
<line x1="60.90" y1="535.30" x2="91.00" y2="535.30" stroke="#111" stroke-width="1.8" />
<line x1="60.90" y1="528.30" x2="60.90" y2="542.30" stroke="#111" stroke-width="1.8" />
<line x1="91.00" y1="528.30" x2="91.00" y2="542.30" stroke="#111" stroke-width="1.8" />
<line x1="99.10" y1="535.30" x2="125.20" y2="535.30" stroke="#111" stroke-width="1.8" />
<line x1="99.10" y1="528.30" x2="99.10" y2="542.30" stroke="#111" stroke-width="1.8" />
<line x1="125.20" y1="528.30" x2="125.20" y2="542.30" stroke="#111" stroke-width="1.8" />
<path d="M156.10,471.30 L259.20,471.30 L259.20,564.50" fill="none" stroke="#666" stroke-width="0.9"/>
<path d="M156.10,564.50 L156.10,471.30 L156.44,471.30 L156.78,471.30 L157.13,471.30 L157.47,471.30 L157.81,471.30 L158.15,471.30 L158.49,471.30 L158.84,471.30 L159.18,471.30 L159.52,472.57 L159.86,474.94 L160.20,477.32 L160.55,479.69 L160.89,482.06 L161.23,484.43 L161.57,486.76 L161.91,488.93 L162.26,491.10 L162.60,493.28 L162.94,495.45 L163.28,497.63 L163.62,499.80 L163.97,501.98 L164.31,504.15 L164.65,506.33 L164.99,508.59 L165.33,510.95 L165.68,513.30 L166.02,515.66 L166.36,518.02 L166.70,520.37 L167.04,522.73 L167.39,525.08 L167.73,527.44 L168.07,529.49 L168.41,531.24 L168.75,532.98 L169.10,534.73 L169.44,536.48 L169.78,538.22 L170.12,539.97 L170.46,541.72 L170.81,543.46 L171.15,545.21 L171.49,546.95 L171.83,548.70 L172.17,549.94 L172.52,550.69 L172.86,551.43 L173.20,552.18 L173.54,552.92 L173.88,553.67 L174.23,554.41 L174.57,555.15 L174.91,555.89 L175.25,556.63 L175.59,557.37 L175.94,558.10 L176.28,558.84 L176.62,559.30 L176.96,559.67 L177.30,560.04 L177.65,560.41 L177.99,560.77 L178.33,561.13 L178.67,561.49 L179.01,561.85 L179.36,562.20 L179.70,562.30 L180.04,562.31 L180.38,562.31 L180.72,562.32 L181.07,562.31 L181.41,562.31 L181.75,562.30 L182.09,562.29 L182.43,562.28 L182.78,562.26 L183.12,562.24 L183.46,562.22 L183.80,562.19 L184.14,562.16 L184.49,563.27 L184.83,563.19 L185.17,563.10 L185.51,563.02 L185.85,562.93 L186.20,562.84 L186.54,562.75 L186.88,562.65 L187.22,562.56 L187.56,562.47 L187.91,562.37 L188.25,562.28 L188.59,562.19 L188.93,562.10 L189.27,562.00 L189.62,561.91 L189.96,561.82 L190.30,561.74 L190.64,561.65 L190.98,561.56 L191.33,561.48 L191.67,561.39 L192.01,561.31 L192.35,561.22 L192.69,561.13 L193.04,561.05 L193.38,560.96 L193.72,560.86 L194.06,560.76 L194.40,560.66 L194.75,560.54 L195.09,560.41 L195.43,560.27 L195.77,560.10 L196.11,559.91 L196.46,559.68 L196.80,559.42 L197.14,559.10 L197.48,558.73 L197.82,558.29 L198.17,557.77 L198.51,557.17 L198.85,556.46 L199.19,555.64 L199.53,554.71 L199.88,553.65 L200.22,552.46 L200.56,551.15 L200.90,549.71 L201.24,548.16 L201.59,546.51 L201.93,544.78 L202.27,543.01 L202.61,541.21 L202.95,539.43 L203.30,537.71 L203.64,536.08 L203.98,534.60 L204.32,533.29 L204.66,532.20 L205.01,531.36 L205.35,530.79 L205.69,530.51 L206.03,530.52 L206.37,530.67 L206.72,530.95 L207.06,531.35 L207.40,531.86 L207.74,532.49 L208.08,533.22 L208.43,534.05 L208.77,534.96 L209.11,535.95 L209.45,537.00 L209.79,538.11 L210.14,539.25 L210.48,540.43 L210.82,541.63 L211.16,542.83 L211.50,544.03 L211.85,545.22 L212.19,546.39 L212.53,547.54 L212.87,548.65 L213.21,549.72 L213.56,550.74 L213.90,551.72 L214.24,552.64 L214.58,553.51 L214.92,554.32 L215.27,555.08 L215.61,555.79 L215.95,556.44 L216.29,557.03 L216.63,557.58 L216.98,558.08 L217.32,558.53 L217.66,558.94 L218.00,559.31 L218.34,559.64 L218.69,559.93 L219.03,560.20 L219.37,560.43 L219.71,560.64 L220.05,560.82 L220.40,560.99 L220.74,561.13 L221.08,561.26 L221.42,561.37 L221.76,561.47 L222.11,561.55 L222.45,561.63 L222.79,561.70 L223.13,561.76 L223.47,561.82 L223.82,561.87 L224.16,561.92 L224.50,561.96 L224.84,562.00 L225.18,562.04 L225.53,562.08 L225.87,562.12 L226.21,562.16 L226.55,562.19 L226.89,562.23 L227.24,562.26 L227.58,562.30 L227.92,562.33 L228.26,562.36 L228.60,562.39 L228.95,562.42 L229.29,562.44 L229.63,562.46 L229.97,562.48 L230.31,562.49 L230.66,562.49 L231.00,562.49 L231.34,562.48 L231.68,562.46 L232.02,562.43 L232.37,562.39 L232.71,562.33 L233.05,562.26 L233.39,562.16 L233.73,562.04 L234.08,561.89 L234.42,561.71 L234.76,561.49 L235.10,561.22 L235.44,560.89 L235.79,560.49 L236.13,560.02 L236.47,559.46 L236.81,558.81 L237.15,558.05 L237.50,557.19 L237.84,556.21 L238.18,555.13 L238.52,553.93 L238.86,552.64 L239.21,551.27 L239.55,549.84 L239.89,548.38 L240.23,546.92 L240.57,545.49 L240.92,544.13 L241.26,542.89 L241.60,541.80 L241.94,540.89 L242.28,540.20 L242.63,539.75 L242.97,539.55 L243.31,539.61 L243.65,539.89 L243.99,540.39 L244.34,541.09 L244.68,541.96 L245.02,543.00 L245.36,544.15 L245.70,545.41 L246.05,546.73 L246.39,548.09 L246.73,549.45 L247.07,550.80 L247.41,552.11 L247.76,553.35 L248.10,554.53 L248.44,555.61 L248.78,556.61 L249.12,557.52 L249.47,558.33 L249.81,559.05 L250.15,559.69 L250.49,560.25 L250.83,560.73 L251.18,561.16 L251.52,561.52 L251.86,561.84 L252.20,562.11 L252.54,562.35 L252.89,562.56 L253.23,562.74 L253.57,562.91 L253.91,563.05 L254.25,563.18 L254.60,563.30 L254.94,563.40 L255.28,563.50 L255.62,563.59 L255.96,563.67 L256.31,563.74 L256.65,563.81 L256.99,563.88 L257.33,563.94 L257.67,563.99 L258.02,564.04 L258.36,564.09 L258.70,564.13 L258.70,564.50 Z" fill="#000" stroke="#000" stroke-width="0.5"/>
<line x1="156.10" y1="471.30" x2="156.10" y2="564.50" stroke="#444" stroke-width="1.0" />
<line x1="156.10" y1="564.50" x2="259.20" y2="564.50" stroke="#111" stroke-width="1.1" />
<line x1="154.10" y1="564.50" x2="156.10" y2="564.50" stroke="#555" stroke-width="0.7" />
<text x="153.10" y="565.70" font-size="3.5" text-anchor="end" font-weight="normal" font-style="normal" fill="#555" stroke="#555" stroke-width="0.22" >0</text>
<line x1="155.10" y1="559.84" x2="156.10" y2="559.84" stroke="#888" stroke-width="0.5" />
<line x1="155.10" y1="555.18" x2="156.10" y2="555.18" stroke="#888" stroke-width="0.5" />
<line x1="155.10" y1="550.52" x2="156.10" y2="550.52" stroke="#888" stroke-width="0.5" />
<line x1="155.10" y1="545.86" x2="156.10" y2="545.86" stroke="#888" stroke-width="0.5" />
<line x1="154.10" y1="541.20" x2="156.10" y2="541.20" stroke="#555" stroke-width="0.7" />
<text x="153.10" y="542.40" font-size="3.5" text-anchor="end" font-weight="normal" font-style="normal" fill="#555" stroke="#555" stroke-width="0.22" >100</text>
<line x1="155.10" y1="536.54" x2="156.10" y2="536.54" stroke="#888" stroke-width="0.5" />
<line x1="155.10" y1="531.88" x2="156.10" y2="531.88" stroke="#888" stroke-width="0.5" />
<line x1="155.10" y1="527.22" x2="156.10" y2="527.22" stroke="#888" stroke-width="0.5" />
<line x1="155.10" y1="522.56" x2="156.10" y2="522.56" stroke="#888" stroke-width="0.5" />
<line x1="154.10" y1="517.90" x2="156.10" y2="517.90" stroke="#555" stroke-width="0.7" />
<text x="153.10" y="519.10" font-size="3.5" text-anchor="end" font-weight="normal" font-style="normal" fill="#555" stroke="#555" stroke-width="0.22" >200</text>
<line x1="155.10" y1="513.24" x2="156.10" y2="513.24" stroke="#888" stroke-width="0.5" />
<line x1="155.10" y1="508.58" x2="156.10" y2="508.58" stroke="#888" stroke-width="0.5" />
<line x1="155.10" y1="503.92" x2="156.10" y2="503.92" stroke="#888" stroke-width="0.5" />
<line x1="155.10" y1="499.26" x2="156.10" y2="499.26" stroke="#888" stroke-width="0.5" />
<line x1="154.10" y1="494.60" x2="156.10" y2="494.60" stroke="#555" stroke-width="0.7" />
<text x="153.10" y="495.80" font-size="3.5" text-anchor="end" font-weight="normal" font-style="normal" fill="#555" stroke="#555" stroke-width="0.22" >300</text>
<line x1="155.10" y1="489.94" x2="156.10" y2="489.94" stroke="#888" stroke-width="0.5" />
<line x1="155.10" y1="485.28" x2="156.10" y2="485.28" stroke="#888" stroke-width="0.5" />
<line x1="155.10" y1="480.62" x2="156.10" y2="480.62" stroke="#888" stroke-width="0.5" />
<line x1="155.10" y1="475.96" x2="156.10" y2="475.96" stroke="#888" stroke-width="0.5" />
<line x1="154.10" y1="471.30" x2="156.10" y2="471.30" stroke="#555" stroke-width="0.7" />
<text x="153.10" y="472.50" font-size="3.5" text-anchor="end" font-weight="normal" font-style="normal" fill="#555" stroke="#555" stroke-width="0.22" >400</text>
<line x1="156.10" y1="564.50" x2="156.10" y2="566.50" stroke="#555" stroke-width="0.7" />
<text x="156.10" y="571.00" font-size="3.6" text-anchor="middle" font-weight="normal" font-style="normal" fill="#555" stroke="#555" stroke-width="0.22" >10<tspan font-size='2.4' dy='-1.3'>0</tspan></text>
<line x1="163.82" y1="564.50" x2="163.82" y2="565.50" stroke="#999" stroke-width="0.4" />
<line x1="168.34" y1="564.50" x2="168.34" y2="565.50" stroke="#999" stroke-width="0.4" />
<line x1="171.54" y1="564.50" x2="171.54" y2="565.50" stroke="#999" stroke-width="0.4" />
<line x1="174.03" y1="564.50" x2="174.03" y2="565.50" stroke="#999" stroke-width="0.4" />
<line x1="176.06" y1="564.50" x2="176.06" y2="565.50" stroke="#999" stroke-width="0.4" />
<line x1="177.78" y1="564.50" x2="177.78" y2="565.50" stroke="#999" stroke-width="0.4" />
<line x1="179.26" y1="564.50" x2="179.26" y2="565.50" stroke="#999" stroke-width="0.4" />
<line x1="180.58" y1="564.50" x2="180.58" y2="565.50" stroke="#999" stroke-width="0.4" />
<line x1="181.75" y1="564.50" x2="181.75" y2="566.50" stroke="#555" stroke-width="0.7" />
<text x="181.75" y="571.00" font-size="3.6" text-anchor="middle" font-weight="normal" font-style="normal" fill="#555" stroke="#555" stroke-width="0.22" >10<tspan font-size='2.4' dy='-1.3'>1</tspan></text>
<line x1="189.47" y1="564.50" x2="189.47" y2="565.50" stroke="#999" stroke-width="0.4" />
<line x1="193.99" y1="564.50" x2="193.99" y2="565.50" stroke="#999" stroke-width="0.4" />
<line x1="197.19" y1="564.50" x2="197.19" y2="565.50" stroke="#999" stroke-width="0.4" />
<line x1="199.68" y1="564.50" x2="199.68" y2="565.50" stroke="#999" stroke-width="0.4" />
<line x1="201.71" y1="564.50" x2="201.71" y2="565.50" stroke="#999" stroke-width="0.4" />
<line x1="203.43" y1="564.50" x2="203.43" y2="565.50" stroke="#999" stroke-width="0.4" />
<line x1="204.91" y1="564.50" x2="204.91" y2="565.50" stroke="#999" stroke-width="0.4" />
<line x1="206.23" y1="564.50" x2="206.23" y2="565.50" stroke="#999" stroke-width="0.4" />
<line x1="207.40" y1="564.50" x2="207.40" y2="566.50" stroke="#555" stroke-width="0.7" />
<text x="207.40" y="571.00" font-size="3.6" text-anchor="middle" font-weight="normal" font-style="normal" fill="#555" stroke="#555" stroke-width="0.22" >10<tspan font-size='2.4' dy='-1.3'>2</tspan></text>
<line x1="215.12" y1="564.50" x2="215.12" y2="565.50" stroke="#999" stroke-width="0.4" />
<line x1="219.64" y1="564.50" x2="219.64" y2="565.50" stroke="#999" stroke-width="0.4" />
<line x1="222.84" y1="564.50" x2="222.84" y2="565.50" stroke="#999" stroke-width="0.4" />
<line x1="225.33" y1="564.50" x2="225.33" y2="565.50" stroke="#999" stroke-width="0.4" />
<line x1="227.36" y1="564.50" x2="227.36" y2="565.50" stroke="#999" stroke-width="0.4" />
<line x1="229.08" y1="564.50" x2="229.08" y2="565.50" stroke="#999" stroke-width="0.4" />
<line x1="230.56" y1="564.50" x2="230.56" y2="565.50" stroke="#999" stroke-width="0.4" />
<line x1="231.88" y1="564.50" x2="231.88" y2="565.50" stroke="#999" stroke-width="0.4" />
<line x1="233.05" y1="564.50" x2="233.05" y2="566.50" stroke="#555" stroke-width="0.7" />
<text x="233.05" y="571.00" font-size="3.6" text-anchor="middle" font-weight="normal" font-style="normal" fill="#555" stroke="#555" stroke-width="0.22" >10<tspan font-size='2.4' dy='-1.3'>3</tspan></text>
<line x1="240.77" y1="564.50" x2="240.77" y2="565.50" stroke="#999" stroke-width="0.4" />
<line x1="245.29" y1="564.50" x2="245.29" y2="565.50" stroke="#999" stroke-width="0.4" />
<line x1="248.49" y1="564.50" x2="248.49" y2="565.50" stroke="#999" stroke-width="0.4" />
<line x1="250.98" y1="564.50" x2="250.98" y2="565.50" stroke="#999" stroke-width="0.4" />
<line x1="253.01" y1="564.50" x2="253.01" y2="565.50" stroke="#999" stroke-width="0.4" />
<line x1="254.73" y1="564.50" x2="254.73" y2="565.50" stroke="#999" stroke-width="0.4" />
<line x1="256.21" y1="564.50" x2="256.21" y2="565.50" stroke="#999" stroke-width="0.4" />
<line x1="257.53" y1="564.50" x2="257.53" y2="565.50" stroke="#999" stroke-width="0.4" />
<line x1="258.70" y1="564.50" x2="258.70" y2="566.50" stroke="#555" stroke-width="0.7" />
<text x="258.70" y="571.00" font-size="3.6" text-anchor="middle" font-weight="normal" font-style="normal" fill="#555" stroke="#555" stroke-width="0.22" >10<tspan font-size='2.4' dy='-1.3'>4</tspan></text>
<text x="207.40" y="577.00" font-size="3.4" text-anchor="middle" font-weight="normal" font-style="normal" fill="#555" stroke="#555" stroke-width="0.22" >FL1-H</text>
<text x="141.60" y="517.90" font-size="3.8" text-anchor="middle" font-weight="normal" font-style="normal" fill="#333" stroke="#333" stroke-width="0.22" transform="rotate(-90 141.6 517.9)" ># Cells</text>
<text x="163.70" y="482.00" font-size="9" fill="#1a1a1a">WT neutrophils</text>
<text x="214.50" y="513.20" font-size="9.1" text-anchor="middle" font-weight="normal" font-style="normal" fill="#1a1a1a" stroke="#1a1a1a" stroke-width="0.22" >28.5% lysis</text>
<line x1="188.70" y1="524.60" x2="219.40" y2="524.60" stroke="#111" stroke-width="1.8" />
<line x1="188.70" y1="517.60" x2="188.70" y2="531.60" stroke="#111" stroke-width="1.8" />
<line x1="219.40" y1="517.60" x2="219.40" y2="531.60" stroke="#111" stroke-width="1.8" />
<line x1="227.50" y1="524.60" x2="254.40" y2="524.60" stroke="#111" stroke-width="1.8" />
<line x1="227.50" y1="517.60" x2="227.50" y2="531.60" stroke="#111" stroke-width="1.8" />
<line x1="254.40" y1="517.60" x2="254.40" y2="531.60" stroke="#111" stroke-width="1.8" />
<path d="M284.00,469.60 L382.50,469.60 L382.50,563.10" fill="none" stroke="#666" stroke-width="0.9"/>
<path d="M284.00,563.10 L284.00,469.60 L284.33,469.60 L284.65,469.60 L284.98,469.60 L285.30,469.60 L285.63,469.60 L285.95,469.60 L286.28,469.60 L286.60,469.60 L286.93,469.60 L287.25,469.60 L287.58,469.60 L287.90,470.22 L288.23,471.99 L288.55,473.76 L288.88,475.52 L289.21,477.29 L289.53,479.05 L289.86,480.82 L290.18,482.59 L290.51,484.35 L290.83,485.78 L291.16,487.10 L291.48,488.42 L291.81,489.73 L292.13,491.05 L292.46,492.37 L292.78,493.69 L293.11,495.00 L293.43,496.32 L293.76,497.64 L294.09,498.96 L294.41,500.27 L294.74,501.59 L295.06,502.91 L295.39,504.23 L295.71,505.54 L296.04,506.95 L296.36,508.64 L296.69,510.33 L297.01,512.01 L297.34,513.70 L297.66,515.39 L297.99,517.07 L298.31,518.76 L298.64,520.44 L298.97,522.13 L299.29,523.82 L299.62,525.50 L299.94,527.19 L300.27,529.09 L300.59,531.19 L300.92,533.30 L301.24,535.41 L301.57,537.52 L301.89,539.62 L302.22,541.73 L302.54,543.83 L302.87,545.94 L303.19,548.04 L303.52,549.25 L303.85,550.15 L304.17,551.05 L304.50,551.95 L304.82,552.85 L305.15,553.74 L305.47,554.64 L305.80,555.53 L306.12,556.42 L306.45,557.30 L306.77,557.55 L307.10,557.79 L307.42,558.03 L307.75,558.27 L308.07,558.50 L308.40,558.73 L308.73,558.95 L309.05,559.17 L309.38,559.38 L309.70,559.58 L310.03,559.78 L310.35,559.98 L310.68,560.11 L311.00,560.06 L311.33,560.01 L311.65,559.95 L311.98,559.88 L312.30,559.81 L312.63,559.74 L312.95,559.65 L313.28,559.57 L313.61,559.48 L313.93,559.39 L314.26,559.29 L314.58,559.19 L314.91,559.09 L315.23,558.99 L315.56,558.89 L315.88,560.17 L316.21,560.03 L316.53,559.89 L316.86,559.75 L317.18,559.61 L317.51,559.48 L317.83,559.35 L318.16,559.23 L318.49,559.10 L318.81,558.98 L319.14,558.87 L319.46,558.75 L319.79,558.64 L320.11,558.53 L320.44,558.41 L320.76,558.29 L321.09,558.17 L321.41,558.03 L321.74,557.88 L322.06,557.71 L322.39,557.52 L322.71,557.31 L323.04,557.06 L323.37,556.77 L323.69,556.44 L324.02,556.07 L324.34,555.63 L324.67,555.14 L324.99,554.58 L325.32,553.94 L325.64,553.24 L325.97,552.45 L326.29,551.59 L326.62,550.65 L326.94,549.64 L327.27,548.55 L327.59,547.40 L327.92,546.20 L328.25,544.95 L328.57,543.66 L328.90,542.37 L329.22,541.07 L329.55,539.80 L329.87,538.56 L330.20,537.38 L330.52,536.29 L330.85,535.30 L331.17,534.42 L331.50,533.69 L331.82,533.10 L332.15,532.68 L332.47,532.43 L332.80,532.35 L333.13,532.41 L333.45,532.55 L333.78,532.76 L334.10,533.06 L334.43,533.42 L334.75,533.86 L335.08,534.36 L335.40,534.93 L335.73,535.55 L336.05,536.23 L336.38,536.96 L336.70,537.73 L337.03,538.54 L337.35,539.37 L337.68,540.24 L338.01,541.12 L338.33,542.01 L338.66,542.91 L338.98,543.82 L339.31,544.72 L339.63,545.61 L339.96,546.49 L340.28,547.35 L340.61,548.19 L340.93,549.00 L341.26,549.79 L341.58,550.54 L341.91,551.27 L342.23,551.96 L342.56,552.61 L342.89,553.23 L343.21,553.81 L343.54,554.35 L343.86,554.86 L344.19,555.33 L344.51,555.77 L344.84,556.17 L345.16,556.54 L345.49,556.88 L345.81,557.18 L346.14,557.46 L346.46,557.71 L346.79,557.93 L347.11,558.13 L347.44,558.31 L347.77,558.47 L348.09,558.61 L348.42,558.73 L348.74,558.84 L349.07,558.93 L349.39,559.02 L349.72,559.09 L350.04,559.15 L350.37,559.21 L350.69,559.26 L351.02,559.30 L351.34,559.34 L351.67,559.38 L351.99,559.42 L352.32,559.45 L352.65,559.47 L352.97,559.50 L353.30,559.52 L353.62,559.55 L353.95,559.56 L354.27,559.58 L354.60,559.59 L354.92,559.59 L355.25,559.59 L355.57,559.58 L355.90,559.56 L356.22,559.53 L356.55,559.49 L356.87,559.43 L357.20,559.35 L357.53,559.24 L357.85,559.11 L358.18,558.94 L358.50,558.74 L358.83,558.49 L359.15,558.19 L359.48,557.84 L359.80,557.42 L360.13,556.94 L360.45,556.38 L360.78,555.74 L361.10,555.02 L361.43,554.22 L361.75,553.32 L362.08,552.34 L362.41,551.27 L362.73,550.13 L363.06,548.92 L363.38,547.65 L363.71,546.34 L364.03,545.01 L364.36,543.67 L364.68,542.35 L365.01,541.08 L365.33,539.87 L365.66,538.75 L365.98,537.75 L366.31,536.89 L366.63,536.19 L366.96,535.66 L367.29,535.32 L367.61,535.18 L367.94,535.25 L368.26,535.57 L368.59,536.13 L368.91,536.91 L369.24,537.90 L369.56,539.05 L369.89,540.35 L370.21,541.75 L370.54,543.23 L370.86,544.75 L371.19,546.27 L371.51,547.78 L371.84,549.24 L372.17,550.63 L372.49,551.94 L372.82,553.16 L373.14,554.28 L373.47,555.29 L373.79,556.20 L374.12,557.00 L374.44,557.72 L374.77,558.34 L375.09,558.89 L375.42,559.36 L375.74,559.77 L376.07,560.12 L376.39,560.43 L376.72,560.69 L377.05,560.93 L377.37,561.13 L377.70,561.31 L378.02,561.48 L378.35,561.62 L378.67,561.75 L379.00,561.87 L379.32,561.98 L379.65,562.08 L379.97,562.17 L380.30,562.25 L380.62,562.33 L380.95,562.40 L381.27,562.47 L381.60,562.53 L381.60,563.10 Z" fill="#000" stroke="#000" stroke-width="0.5"/>
<line x1="284.00" y1="469.60" x2="284.00" y2="563.10" stroke="#444" stroke-width="1.0" />
<line x1="284.00" y1="563.10" x2="382.50" y2="563.10" stroke="#111" stroke-width="1.1" />
<line x1="282.00" y1="563.10" x2="284.00" y2="563.10" stroke="#555" stroke-width="0.7" />
<text x="281.00" y="564.30" font-size="3.5" text-anchor="end" font-weight="normal" font-style="normal" fill="#555" stroke="#555" stroke-width="0.22" >0</text>
<line x1="283.00" y1="558.43" x2="284.00" y2="558.43" stroke="#888" stroke-width="0.5" />
<line x1="283.00" y1="553.75" x2="284.00" y2="553.75" stroke="#888" stroke-width="0.5" />
<line x1="283.00" y1="549.08" x2="284.00" y2="549.08" stroke="#888" stroke-width="0.5" />
<line x1="283.00" y1="544.40" x2="284.00" y2="544.40" stroke="#888" stroke-width="0.5" />
<line x1="282.00" y1="539.73" x2="284.00" y2="539.73" stroke="#555" stroke-width="0.7" />
<text x="281.00" y="540.93" font-size="3.5" text-anchor="end" font-weight="normal" font-style="normal" fill="#555" stroke="#555" stroke-width="0.22" >100</text>
<line x1="283.00" y1="535.05" x2="284.00" y2="535.05" stroke="#888" stroke-width="0.5" />
<line x1="283.00" y1="530.38" x2="284.00" y2="530.38" stroke="#888" stroke-width="0.5" />
<line x1="283.00" y1="525.70" x2="284.00" y2="525.70" stroke="#888" stroke-width="0.5" />
<line x1="283.00" y1="521.02" x2="284.00" y2="521.02" stroke="#888" stroke-width="0.5" />
<line x1="282.00" y1="516.35" x2="284.00" y2="516.35" stroke="#555" stroke-width="0.7" />
<text x="281.00" y="517.55" font-size="3.5" text-anchor="end" font-weight="normal" font-style="normal" fill="#555" stroke="#555" stroke-width="0.22" >200</text>
<line x1="283.00" y1="511.68" x2="284.00" y2="511.68" stroke="#888" stroke-width="0.5" />
<line x1="283.00" y1="507.00" x2="284.00" y2="507.00" stroke="#888" stroke-width="0.5" />
<line x1="283.00" y1="502.33" x2="284.00" y2="502.33" stroke="#888" stroke-width="0.5" />
<line x1="283.00" y1="497.65" x2="284.00" y2="497.65" stroke="#888" stroke-width="0.5" />
<line x1="282.00" y1="492.98" x2="284.00" y2="492.98" stroke="#555" stroke-width="0.7" />
<text x="281.00" y="494.18" font-size="3.5" text-anchor="end" font-weight="normal" font-style="normal" fill="#555" stroke="#555" stroke-width="0.22" >300</text>
<line x1="283.00" y1="488.30" x2="284.00" y2="488.30" stroke="#888" stroke-width="0.5" />
<line x1="283.00" y1="483.62" x2="284.00" y2="483.62" stroke="#888" stroke-width="0.5" />
<line x1="283.00" y1="478.95" x2="284.00" y2="478.95" stroke="#888" stroke-width="0.5" />
<line x1="283.00" y1="474.28" x2="284.00" y2="474.28" stroke="#888" stroke-width="0.5" />
<line x1="282.00" y1="469.60" x2="284.00" y2="469.60" stroke="#555" stroke-width="0.7" />
<text x="281.00" y="470.80" font-size="3.5" text-anchor="end" font-weight="normal" font-style="normal" fill="#555" stroke="#555" stroke-width="0.22" >400</text>
<line x1="284.00" y1="563.10" x2="284.00" y2="565.10" stroke="#555" stroke-width="0.7" />
<text x="284.00" y="569.60" font-size="3.6" text-anchor="middle" font-weight="normal" font-style="normal" fill="#555" stroke="#555" stroke-width="0.22" >10<tspan font-size='2.4' dy='-1.3'>0</tspan></text>
<line x1="291.35" y1="563.10" x2="291.35" y2="564.10" stroke="#999" stroke-width="0.4" />
<line x1="295.64" y1="563.10" x2="295.64" y2="564.10" stroke="#999" stroke-width="0.4" />
<line x1="298.69" y1="563.10" x2="298.69" y2="564.10" stroke="#999" stroke-width="0.4" />
<line x1="301.05" y1="563.10" x2="301.05" y2="564.10" stroke="#999" stroke-width="0.4" />
<line x1="302.99" y1="563.10" x2="302.99" y2="564.10" stroke="#999" stroke-width="0.4" />
<line x1="304.62" y1="563.10" x2="304.62" y2="564.10" stroke="#999" stroke-width="0.4" />
<line x1="306.04" y1="563.10" x2="306.04" y2="564.10" stroke="#999" stroke-width="0.4" />
<line x1="307.28" y1="563.10" x2="307.28" y2="564.10" stroke="#999" stroke-width="0.4" />
<line x1="308.40" y1="563.10" x2="308.40" y2="565.10" stroke="#555" stroke-width="0.7" />
<text x="308.40" y="569.60" font-size="3.6" text-anchor="middle" font-weight="normal" font-style="normal" fill="#555" stroke="#555" stroke-width="0.22" >10<tspan font-size='2.4' dy='-1.3'>1</tspan></text>
<line x1="315.75" y1="563.10" x2="315.75" y2="564.10" stroke="#999" stroke-width="0.4" />
<line x1="320.04" y1="563.10" x2="320.04" y2="564.10" stroke="#999" stroke-width="0.4" />
<line x1="323.09" y1="563.10" x2="323.09" y2="564.10" stroke="#999" stroke-width="0.4" />
<line x1="325.45" y1="563.10" x2="325.45" y2="564.10" stroke="#999" stroke-width="0.4" />
<line x1="327.39" y1="563.10" x2="327.39" y2="564.10" stroke="#999" stroke-width="0.4" />
<line x1="329.02" y1="563.10" x2="329.02" y2="564.10" stroke="#999" stroke-width="0.4" />
<line x1="330.44" y1="563.10" x2="330.44" y2="564.10" stroke="#999" stroke-width="0.4" />
<line x1="331.68" y1="563.10" x2="331.68" y2="564.10" stroke="#999" stroke-width="0.4" />
<line x1="332.80" y1="563.10" x2="332.80" y2="565.10" stroke="#555" stroke-width="0.7" />
<text x="332.80" y="569.60" font-size="3.6" text-anchor="middle" font-weight="normal" font-style="normal" fill="#555" stroke="#555" stroke-width="0.22" >10<tspan font-size='2.4' dy='-1.3'>2</tspan></text>
<line x1="340.15" y1="563.10" x2="340.15" y2="564.10" stroke="#999" stroke-width="0.4" />
<line x1="344.44" y1="563.10" x2="344.44" y2="564.10" stroke="#999" stroke-width="0.4" />
<line x1="347.49" y1="563.10" x2="347.49" y2="564.10" stroke="#999" stroke-width="0.4" />
<line x1="349.85" y1="563.10" x2="349.85" y2="564.10" stroke="#999" stroke-width="0.4" />
<line x1="351.79" y1="563.10" x2="351.79" y2="564.10" stroke="#999" stroke-width="0.4" />
<line x1="353.42" y1="563.10" x2="353.42" y2="564.10" stroke="#999" stroke-width="0.4" />
<line x1="354.84" y1="563.10" x2="354.84" y2="564.10" stroke="#999" stroke-width="0.4" />
<line x1="356.08" y1="563.10" x2="356.08" y2="564.10" stroke="#999" stroke-width="0.4" />
<line x1="357.20" y1="563.10" x2="357.20" y2="565.10" stroke="#555" stroke-width="0.7" />
<text x="357.20" y="569.60" font-size="3.6" text-anchor="middle" font-weight="normal" font-style="normal" fill="#555" stroke="#555" stroke-width="0.22" >10<tspan font-size='2.4' dy='-1.3'>3</tspan></text>
<line x1="364.55" y1="563.10" x2="364.55" y2="564.10" stroke="#999" stroke-width="0.4" />
<line x1="368.84" y1="563.10" x2="368.84" y2="564.10" stroke="#999" stroke-width="0.4" />
<line x1="371.89" y1="563.10" x2="371.89" y2="564.10" stroke="#999" stroke-width="0.4" />
<line x1="374.25" y1="563.10" x2="374.25" y2="564.10" stroke="#999" stroke-width="0.4" />
<line x1="376.19" y1="563.10" x2="376.19" y2="564.10" stroke="#999" stroke-width="0.4" />
<line x1="377.82" y1="563.10" x2="377.82" y2="564.10" stroke="#999" stroke-width="0.4" />
<line x1="379.24" y1="563.10" x2="379.24" y2="564.10" stroke="#999" stroke-width="0.4" />
<line x1="380.48" y1="563.10" x2="380.48" y2="564.10" stroke="#999" stroke-width="0.4" />
<line x1="381.60" y1="563.10" x2="381.60" y2="565.10" stroke="#555" stroke-width="0.7" />
<text x="381.60" y="569.60" font-size="3.6" text-anchor="middle" font-weight="normal" font-style="normal" fill="#555" stroke="#555" stroke-width="0.22" >10<tspan font-size='2.4' dy='-1.3'>4</tspan></text>
<text x="332.80" y="575.60" font-size="3.4" text-anchor="middle" font-weight="normal" font-style="normal" fill="#555" stroke="#555" stroke-width="0.22" >FL1-H</text>
<text x="269.50" y="516.35" font-size="3.8" text-anchor="middle" font-weight="normal" font-style="normal" fill="#333" stroke="#333" stroke-width="0.22" transform="rotate(-90 269.5 516.35)" ># Cells</text>
<text x="291.00" y="481.00" font-size="9" fill="#1a1a1a">CR3<tspan font-size='5' dy='-3.5'>-/-</tspan><tspan dy='3.5'> neutrophils</tspan></text>
<text x="340.40" y="512.40" font-size="9.1" text-anchor="middle" font-weight="normal" font-style="normal" fill="#1a1a1a" stroke="#1a1a1a" stroke-width="0.22" >3.4% lysis</text>
<line x1="315.20" y1="524.60" x2="345.60" y2="524.60" stroke="#111" stroke-width="1.8" />
<line x1="315.20" y1="517.60" x2="315.20" y2="531.60" stroke="#111" stroke-width="1.8" />
<line x1="345.60" y1="517.60" x2="345.60" y2="531.60" stroke="#111" stroke-width="1.8" />
<line x1="353.70" y1="524.60" x2="380.40" y2="524.60" stroke="#111" stroke-width="1.8" />
<line x1="353.70" y1="517.60" x2="353.70" y2="531.60" stroke="#111" stroke-width="1.8" />
<line x1="380.40" y1="517.60" x2="380.40" y2="531.60" stroke="#111" stroke-width="1.8" />
<line x1="91.50" y1="588.60" x2="190.00" y2="588.60" stroke="#000" stroke-width="1.6" />
<polygon points="187.5,584.2 198,588.6 187.5,593" fill="#000"/>
<text x="203.50" y="592.90" font-size="12.1" text-anchor="start" font-weight="normal" font-style="normal" fill="#1a1a1a" stroke="#1a1a1a" stroke-width="0.22" >CFSE intensity</text>
<rect x="425.5" y="475" width="89.5" height="90" fill="none" stroke="#111" stroke-width="1.1"/>
<line x1="423.30" y1="565.00" x2="425.50" y2="565.00" stroke="#111" stroke-width="0.9" />
<text x="422.20" y="567.80" font-size="7.6" text-anchor="end" font-weight="normal" font-style="normal" fill="#1a1a1a" stroke="#1a1a1a" stroke-width="0.22" >0</text>
<line x1="423.30" y1="552.14" x2="425.50" y2="552.14" stroke="#111" stroke-width="0.9" />
<text x="422.20" y="554.94" font-size="7.6" text-anchor="end" font-weight="normal" font-style="normal" fill="#1a1a1a" stroke="#1a1a1a" stroke-width="0.22" >5</text>
<line x1="423.30" y1="539.29" x2="425.50" y2="539.29" stroke="#111" stroke-width="0.9" />
<text x="422.20" y="542.09" font-size="7.6" text-anchor="end" font-weight="normal" font-style="normal" fill="#1a1a1a" stroke="#1a1a1a" stroke-width="0.22" >10</text>
<line x1="423.30" y1="526.43" x2="425.50" y2="526.43" stroke="#111" stroke-width="0.9" />
<text x="422.20" y="529.23" font-size="7.6" text-anchor="end" font-weight="normal" font-style="normal" fill="#1a1a1a" stroke="#1a1a1a" stroke-width="0.22" >15</text>
<line x1="423.30" y1="513.58" x2="425.50" y2="513.58" stroke="#111" stroke-width="0.9" />
<text x="422.20" y="516.38" font-size="7.6" text-anchor="end" font-weight="normal" font-style="normal" fill="#1a1a1a" stroke="#1a1a1a" stroke-width="0.22" >20</text>
<line x1="423.30" y1="500.73" x2="425.50" y2="500.73" stroke="#111" stroke-width="0.9" />
<text x="422.20" y="503.53" font-size="7.6" text-anchor="end" font-weight="normal" font-style="normal" fill="#1a1a1a" stroke="#1a1a1a" stroke-width="0.22" >25</text>
<line x1="423.30" y1="487.87" x2="425.50" y2="487.87" stroke="#111" stroke-width="0.9" />
<text x="422.20" y="490.67" font-size="7.6" text-anchor="end" font-weight="normal" font-style="normal" fill="#1a1a1a" stroke="#1a1a1a" stroke-width="0.22" >30</text>
<line x1="423.30" y1="475.01" x2="425.50" y2="475.01" stroke="#111" stroke-width="0.9" />
<text x="422.20" y="477.81" font-size="7.6" text-anchor="end" font-weight="normal" font-style="normal" fill="#1a1a1a" stroke="#1a1a1a" stroke-width="0.22" >35</text>
<rect x="433.6" y="555.74" width="30" height="9.26" fill="#fff" stroke="#000" stroke-width="1.2"/>
<line x1="448.60" y1="554.20" x2="448.60" y2="555.74" stroke="#111" stroke-width="1.1" />
<line x1="441.50" y1="554.20" x2="455.50" y2="554.20" stroke="#111" stroke-width="1.1" />
<rect x="478.5" y="491.21" width="30" height="73.79" fill="#000"/>
<line x1="493.50" y1="483.50" x2="493.50" y2="491.21" stroke="#111" stroke-width="2.0" />
<line x1="486.30" y1="483.50" x2="501.20" y2="483.50" stroke="#111" stroke-width="1.6" />
<text x="443.80" y="506.30" font-size="7.4" text-anchor="start" font-weight="normal" font-style="normal" fill="#1a1a1a" stroke="#1a1a1a" stroke-width="0.22" >*</text>
<text x="449.60" y="506.30" font-size="6.8" text-anchor="start" font-weight="normal" font-style="italic" fill="#1a1a1a" stroke="#1a1a1a" stroke-width="0.22" >p&lt;0.05</text>
<text x="450.00" y="576.00" font-size="7.8" text-anchor="middle" font-weight="normal" font-style="normal" fill="#1a1a1a" stroke="#1a1a1a" stroke-width="0.22" >CR3<tspan font-size='4.5' dy='-3'>-/-</tspan></text>
<text x="494.00" y="576.00" font-size="7.8" text-anchor="middle" font-weight="normal" font-style="normal" fill="#1a1a1a" stroke="#1a1a1a" stroke-width="0.22" >WT</text>
<text x="408.20" y="519.50" font-size="7.9" text-anchor="middle" font-weight="bold" font-style="normal" fill="#1a1a1a" stroke="#1a1a1a" stroke-width="0.22" transform="rotate(-90 408.2 519.5)" >Cytotoxicity (%)</text>
<line x1="44.90" y1="775.50" x2="225.30" y2="775.50" stroke="#111" stroke-width="1.5" stroke-linecap="square"/>
<line x1="44.90" y1="775.50" x2="44.90" y2="656.10" stroke="#111" stroke-width="1.5" stroke-linecap="square"/>
<line x1="41.90" y1="775.50" x2="44.90" y2="775.50" stroke="#111" stroke-width="1.2" />
<text x="39.70" y="779.10" font-size="9.3" text-anchor="end" font-weight="normal" font-style="normal" fill="#1a1a1a" stroke="#1a1a1a" stroke-width="0.22" >0</text>
<line x1="41.90" y1="755.60" x2="44.90" y2="755.60" stroke="#111" stroke-width="1.2" />
<text x="39.70" y="759.20" font-size="9.3" text-anchor="end" font-weight="normal" font-style="normal" fill="#1a1a1a" stroke="#1a1a1a" stroke-width="0.22" >2</text>
<line x1="41.90" y1="735.70" x2="44.90" y2="735.70" stroke="#111" stroke-width="1.2" />
<text x="39.70" y="739.30" font-size="9.3" text-anchor="end" font-weight="normal" font-style="normal" fill="#1a1a1a" stroke="#1a1a1a" stroke-width="0.22" >4</text>
<line x1="41.90" y1="715.80" x2="44.90" y2="715.80" stroke="#111" stroke-width="1.2" />
<text x="39.70" y="719.40" font-size="9.3" text-anchor="end" font-weight="normal" font-style="normal" fill="#1a1a1a" stroke="#1a1a1a" stroke-width="0.22" >6</text>
<line x1="41.90" y1="695.90" x2="44.90" y2="695.90" stroke="#111" stroke-width="1.2" />
<text x="39.70" y="699.50" font-size="9.3" text-anchor="end" font-weight="normal" font-style="normal" fill="#1a1a1a" stroke="#1a1a1a" stroke-width="0.22" >8</text>
<line x1="41.90" y1="676.00" x2="44.90" y2="676.00" stroke="#111" stroke-width="1.2" />
<text x="39.70" y="679.60" font-size="9.3" text-anchor="end" font-weight="normal" font-style="normal" fill="#1a1a1a" stroke="#1a1a1a" stroke-width="0.22" >10</text>
<line x1="41.90" y1="656.10" x2="44.90" y2="656.10" stroke="#111" stroke-width="1.2" />
<text x="39.70" y="659.70" font-size="9.3" text-anchor="end" font-weight="normal" font-style="normal" fill="#1a1a1a" stroke="#1a1a1a" stroke-width="0.22" >12</text>
<line x1="44.90" y1="775.50" x2="44.90" y2="778.50" stroke="#111" stroke-width="1.2" />
<text x="44.90" y="788.90" font-size="10" text-anchor="middle" font-weight="normal" font-style="normal" fill="#1a1a1a" stroke="#1a1a1a" stroke-width="0.22" >0</text>
<line x1="90.00" y1="775.50" x2="90.00" y2="778.50" stroke="#111" stroke-width="1.2" />
<text x="90.00" y="788.90" font-size="10" text-anchor="middle" font-weight="normal" font-style="normal" fill="#1a1a1a" stroke="#1a1a1a" stroke-width="0.22" >10</text>
<line x1="135.10" y1="775.50" x2="135.10" y2="778.50" stroke="#111" stroke-width="1.2" />
<text x="135.10" y="788.90" font-size="10" text-anchor="middle" font-weight="normal" font-style="normal" fill="#1a1a1a" stroke="#1a1a1a" stroke-width="0.22" >20</text>
<line x1="180.20" y1="775.50" x2="180.20" y2="778.50" stroke="#111" stroke-width="1.2" />
<text x="180.20" y="788.90" font-size="10" text-anchor="middle" font-weight="normal" font-style="normal" fill="#1a1a1a" stroke="#1a1a1a" stroke-width="0.22" >30</text>
<line x1="225.30" y1="775.50" x2="225.30" y2="778.50" stroke="#111" stroke-width="1.2" />
<text x="225.30" y="788.90" font-size="10" text-anchor="middle" font-weight="normal" font-style="normal" fill="#1a1a1a" stroke="#1a1a1a" stroke-width="0.22" >40</text>
<text x="136.60" y="802.20" font-size="10.5" text-anchor="middle" font-weight="normal" font-style="normal" fill="#1a1a1a" stroke="#1a1a1a" stroke-width="0.22" word-spacing="2.1">Days post tumor implantation</text>
<text x="28.40" y="715.20" font-size="10" text-anchor="middle" font-weight="bold" font-style="normal" fill="#1a1a1a" stroke="#1a1a1a" stroke-width="0.22" transform="rotate(-90 28.4 715.2)" word-spacing="3">Tumor diameter (mm)</text>
<line x1="121.57" y1="740.67" x2="121.57" y2="747.14" stroke="#ee3b24" stroke-width="1.1" />
<line x1="118.97" y1="740.67" x2="124.17" y2="740.67" stroke="#ee3b24" stroke-width="1.1" />
<line x1="130.59" y1="739.68" x2="130.59" y2="746.64" stroke="#ee3b24" stroke-width="1.1" />
<line x1="127.99" y1="739.68" x2="133.19" y2="739.68" stroke="#ee3b24" stroke-width="1.1" />
<line x1="139.61" y1="735.70" x2="139.61" y2="743.66" stroke="#ee3b24" stroke-width="1.1" />
<line x1="137.01" y1="735.70" x2="142.21" y2="735.70" stroke="#ee3b24" stroke-width="1.1" />
<line x1="148.63" y1="732.72" x2="148.63" y2="741.67" stroke="#ee3b24" stroke-width="1.1" />
<line x1="146.03" y1="732.72" x2="151.23" y2="732.72" stroke="#ee3b24" stroke-width="1.1" />
<line x1="157.65" y1="726.75" x2="157.65" y2="735.20" stroke="#ee3b24" stroke-width="1.1" />
<line x1="155.05" y1="726.75" x2="160.25" y2="726.75" stroke="#ee3b24" stroke-width="1.1" />
<line x1="166.67" y1="723.76" x2="166.67" y2="734.21" stroke="#ee3b24" stroke-width="1.1" />
<line x1="164.07" y1="723.76" x2="169.27" y2="723.76" stroke="#ee3b24" stroke-width="1.1" />
<line x1="175.69" y1="720.77" x2="175.69" y2="733.21" stroke="#ee3b24" stroke-width="1.1" />
<line x1="173.09" y1="720.77" x2="178.29" y2="720.77" stroke="#ee3b24" stroke-width="1.1" />
<line x1="184.71" y1="719.78" x2="184.71" y2="732.72" stroke="#ee3b24" stroke-width="1.1" />
<line x1="182.11" y1="719.78" x2="187.31" y2="719.78" stroke="#ee3b24" stroke-width="1.1" />
<line x1="193.73" y1="715.80" x2="193.73" y2="730.23" stroke="#ee3b24" stroke-width="1.1" />
<line x1="191.13" y1="715.80" x2="196.33" y2="715.80" stroke="#ee3b24" stroke-width="1.1" />
<line x1="207.26" y1="712.82" x2="207.26" y2="728.24" stroke="#ee3b24" stroke-width="1.1" />
<line x1="204.66" y1="712.82" x2="209.86" y2="712.82" stroke="#ee3b24" stroke-width="1.1" />
<polyline points="80.98,755.60 90.00,755.60 99.02,749.13 108.04,749.13 121.57,747.14 130.59,746.64 139.61,743.66 148.63,741.67 157.65,735.20 166.67,734.21 175.69,733.21 184.71,732.72 193.73,730.23 207.26,728.24" fill="none" stroke="#ee3b24" stroke-width="1.6" stroke-linejoin="miter" />
<polygon points="78.38,757.68 83.58,757.68 80.98,753.13" fill="#fff" stroke="#ee3b24" stroke-width="1.3" stroke-linejoin="miter"/>
<polygon points="87.40,757.68 92.60,757.68 90.00,753.13" fill="#fff" stroke="#ee3b24" stroke-width="1.3" stroke-linejoin="miter"/>
<polygon points="96.42,751.21 101.62,751.21 99.02,746.66" fill="#fff" stroke="#ee3b24" stroke-width="1.3" stroke-linejoin="miter"/>
<polygon points="105.44,751.21 110.64,751.21 108.04,746.66" fill="#fff" stroke="#ee3b24" stroke-width="1.3" stroke-linejoin="miter"/>
<polygon points="118.97,749.22 124.17,749.22 121.57,744.67" fill="#fff" stroke="#ee3b24" stroke-width="1.3" stroke-linejoin="miter"/>
<polygon points="127.99,748.73 133.19,748.73 130.59,744.17" fill="#fff" stroke="#ee3b24" stroke-width="1.3" stroke-linejoin="miter"/>
<polygon points="137.01,745.74 142.21,745.74 139.61,741.19" fill="#fff" stroke="#ee3b24" stroke-width="1.3" stroke-linejoin="miter"/>
<polygon points="146.03,743.75 151.23,743.75 148.63,739.20" fill="#fff" stroke="#ee3b24" stroke-width="1.3" stroke-linejoin="miter"/>
<polygon points="155.05,737.28 160.25,737.28 157.65,732.73" fill="#fff" stroke="#ee3b24" stroke-width="1.3" stroke-linejoin="miter"/>
<polygon points="164.07,736.29 169.27,736.29 166.67,731.74" fill="#fff" stroke="#ee3b24" stroke-width="1.3" stroke-linejoin="miter"/>
<polygon points="173.09,735.29 178.29,735.29 175.69,730.74" fill="#fff" stroke="#ee3b24" stroke-width="1.3" stroke-linejoin="miter"/>
<polygon points="182.11,734.80 187.31,734.80 184.71,730.25" fill="#fff" stroke="#ee3b24" stroke-width="1.3" stroke-linejoin="miter"/>
<polygon points="191.13,732.31 196.33,732.31 193.73,727.76" fill="#fff" stroke="#ee3b24" stroke-width="1.3" stroke-linejoin="miter"/>
<polygon points="204.66,730.32 209.86,730.32 207.26,725.77" fill="#fff" stroke="#ee3b24" stroke-width="1.3" stroke-linejoin="miter"/>
<line x1="99.02" y1="732.72" x2="99.02" y2="736.70" stroke="#1c8c1c" stroke-width="1.1" />
<line x1="96.42" y1="732.72" x2="101.62" y2="732.72" stroke="#1c8c1c" stroke-width="1.1" />
<line x1="108.04" y1="723.76" x2="108.04" y2="727.74" stroke="#1c8c1c" stroke-width="1.1" />
<line x1="105.44" y1="723.76" x2="110.64" y2="723.76" stroke="#1c8c1c" stroke-width="1.1" />
<line x1="121.57" y1="709.83" x2="121.57" y2="717.29" stroke="#1c8c1c" stroke-width="1.1" />
<line x1="118.97" y1="709.83" x2="124.17" y2="709.83" stroke="#1c8c1c" stroke-width="1.1" />
<line x1="130.59" y1="707.84" x2="130.59" y2="715.80" stroke="#1c8c1c" stroke-width="1.1" />
<line x1="127.99" y1="707.84" x2="133.19" y2="707.84" stroke="#1c8c1c" stroke-width="1.1" />
<line x1="139.61" y1="702.37" x2="139.61" y2="713.81" stroke="#1c8c1c" stroke-width="1.1" />
<line x1="137.01" y1="702.37" x2="142.21" y2="702.37" stroke="#1c8c1c" stroke-width="1.1" />
<line x1="148.63" y1="704.86" x2="148.63" y2="710.83" stroke="#1c8c1c" stroke-width="1.1" />
<line x1="146.03" y1="704.86" x2="151.23" y2="704.86" stroke="#1c8c1c" stroke-width="1.1" />
<line x1="157.65" y1="698.88" x2="157.65" y2="712.32" stroke="#1c8c1c" stroke-width="1.1" />
<line x1="155.05" y1="698.88" x2="160.25" y2="698.88" stroke="#1c8c1c" stroke-width="1.1" />
<line x1="166.67" y1="690.92" x2="166.67" y2="704.86" stroke="#1c8c1c" stroke-width="1.1" />
<line x1="164.07" y1="690.92" x2="169.27" y2="690.92" stroke="#1c8c1c" stroke-width="1.1" />
<line x1="175.69" y1="684.96" x2="175.69" y2="699.88" stroke="#1c8c1c" stroke-width="1.1" />
<line x1="173.09" y1="684.96" x2="178.29" y2="684.96" stroke="#1c8c1c" stroke-width="1.1" />
<line x1="184.71" y1="679.98" x2="184.71" y2="696.89" stroke="#1c8c1c" stroke-width="1.1" />
<line x1="182.11" y1="679.98" x2="187.31" y2="679.98" stroke="#1c8c1c" stroke-width="1.1" />
<line x1="193.73" y1="675.40" x2="193.73" y2="690.92" stroke="#1c8c1c" stroke-width="1.1" />
<line x1="191.13" y1="675.40" x2="196.33" y2="675.40" stroke="#1c8c1c" stroke-width="1.1" />
<line x1="207.26" y1="663.56" x2="207.26" y2="681.47" stroke="#1c8c1c" stroke-width="1.1" />
<line x1="204.66" y1="663.56" x2="209.86" y2="663.56" stroke="#1c8c1c" stroke-width="1.1" />
<polyline points="80.98,755.10 90.00,755.10 99.02,736.70 108.04,727.74 121.57,717.29 130.59,715.80 139.61,713.81 148.63,710.83 157.65,712.32 166.67,704.86 175.69,699.88 184.71,696.89 193.73,690.92 207.26,681.47" fill="none" stroke="#1c8c1c" stroke-width="1.8" stroke-linejoin="miter" />
<polygon points="77.98,752.70 83.98,752.70 80.98,757.95" fill="#1c8c1c" stroke="#1c8c1c" stroke-width="1.2" stroke-linejoin="miter"/>
<polygon points="87.00,752.70 93.00,752.70 90.00,757.95" fill="#1c8c1c" stroke="#1c8c1c" stroke-width="1.2" stroke-linejoin="miter"/>
<polygon points="96.02,734.30 102.02,734.30 99.02,739.55" fill="#1c8c1c" stroke="#1c8c1c" stroke-width="1.2" stroke-linejoin="miter"/>
<polygon points="105.04,725.34 111.04,725.34 108.04,730.59" fill="#1c8c1c" stroke="#1c8c1c" stroke-width="1.2" stroke-linejoin="miter"/>
<polygon points="118.57,714.89 124.57,714.89 121.57,720.14" fill="#1c8c1c" stroke="#1c8c1c" stroke-width="1.2" stroke-linejoin="miter"/>
<polygon points="127.59,713.40 133.59,713.40 130.59,718.65" fill="#1c8c1c" stroke="#1c8c1c" stroke-width="1.2" stroke-linejoin="miter"/>
<polygon points="136.61,711.41 142.61,711.41 139.61,716.66" fill="#1c8c1c" stroke="#1c8c1c" stroke-width="1.2" stroke-linejoin="miter"/>
<polygon points="145.63,708.43 151.63,708.43 148.63,713.68" fill="#1c8c1c" stroke="#1c8c1c" stroke-width="1.2" stroke-linejoin="miter"/>
<polygon points="154.65,709.92 160.65,709.92 157.65,715.17" fill="#1c8c1c" stroke="#1c8c1c" stroke-width="1.2" stroke-linejoin="miter"/>
<polygon points="163.67,702.46 169.67,702.46 166.67,707.71" fill="#1c8c1c" stroke="#1c8c1c" stroke-width="1.2" stroke-linejoin="miter"/>
<polygon points="172.69,697.48 178.69,697.48 175.69,702.73" fill="#1c8c1c" stroke="#1c8c1c" stroke-width="1.2" stroke-linejoin="miter"/>
<polygon points="181.71,694.50 187.71,694.50 184.71,699.75" fill="#1c8c1c" stroke="#1c8c1c" stroke-width="1.2" stroke-linejoin="miter"/>
<polygon points="190.73,688.52 196.73,688.52 193.73,693.77" fill="#1c8c1c" stroke="#1c8c1c" stroke-width="1.2" stroke-linejoin="miter"/>
<polygon points="204.26,679.07 210.26,679.07 207.26,684.32" fill="#1c8c1c" stroke="#1c8c1c" stroke-width="1.2" stroke-linejoin="miter"/>
<line x1="81.43" y1="763.80" x2="81.43" y2="772.20" stroke="#111" stroke-width="1.4" />
<line x1="209.51" y1="763.80" x2="209.51" y2="772.20" stroke="#111" stroke-width="1.4" />
<line x1="81.43" y1="768.00" x2="209.51" y2="768.00" stroke="#111" stroke-width="1.4" stroke-dasharray="1.4,1.4"/>
<text x="153.90" y="764.70" font-size="8.2" text-anchor="middle" font-weight="normal" font-style="normal" fill="#1a1a1a" stroke="#1a1a1a" stroke-width="0.22" letter-spacing="0.85">Therapy</text>
<text x="198.00" y="706.80" font-size="9.3" text-anchor="start" font-weight="normal" font-style="italic" fill="#1a1a1a" stroke="#1a1a1a" stroke-width="0.4" letter-spacing="0.15">***<tspan>p&lt;0.001</tspan></text>
<line x1="50.80" y1="634.80" x2="68.10" y2="634.80" stroke="#ee3b24" stroke-width="1.5" />
<polygon points="57.15,636.64 61.75,636.64 59.45,632.62" fill="#fff" stroke="#ee3b24" stroke-width="1.5" stroke-linejoin="miter"/>
<text x="70.60" y="638.40" font-size="10" text-anchor="start" font-weight="normal" font-style="normal" fill="#1a1a1a" stroke="#1a1a1a" stroke-width="0.22" >PGG <tspan font-family='Liberation Serif' stroke-width='0'>&#946;</tspan>-glucan+BCP8+Isotype (n=10)</text>
<line x1="50.80" y1="648.30" x2="68.10" y2="648.30" stroke="#1c8c1c" stroke-width="1.5" />
<polygon points="57.05,646.38 61.85,646.38 59.45,650.58" fill="#1c8c1c" stroke="#1c8c1c" stroke-width="1.3" stroke-linejoin="miter"/>
<text x="70.60" y="651.90" font-size="10" text-anchor="start" font-weight="normal" font-style="normal" fill="#1a1a1a" stroke="#1a1a1a" stroke-width="0.22" >PGG <tspan font-family='Liberation Serif' stroke-width='0'>&#946;</tspan>-glucan+BCP8+Gr-1 (n=10)</text>
<line x1="290.90" y1="775.60" x2="471.92" y2="775.60" stroke="#111" stroke-width="1.5" stroke-linecap="square"/>
<line x1="290.90" y1="775.60" x2="290.90" y2="656.20" stroke="#111" stroke-width="1.5" stroke-linecap="square"/>
<line x1="287.60" y1="775.60" x2="290.90" y2="775.60" stroke="#111" stroke-width="1.2" />
<text x="286.70" y="779.20" font-size="9.3" text-anchor="end" font-weight="normal" font-style="normal" fill="#1a1a1a" stroke="#1a1a1a" stroke-width="0.22" >0</text>
<line x1="287.60" y1="715.90" x2="290.90" y2="715.90" stroke="#111" stroke-width="1.2" />
<text x="286.70" y="719.50" font-size="9.3" text-anchor="end" font-weight="normal" font-style="normal" fill="#1a1a1a" stroke="#1a1a1a" stroke-width="0.22" >50</text>
<line x1="287.60" y1="656.20" x2="290.90" y2="656.20" stroke="#111" stroke-width="1.2" />
<text x="286.70" y="659.80" font-size="9.3" text-anchor="end" font-weight="normal" font-style="normal" fill="#1a1a1a" stroke="#1a1a1a" stroke-width="0.22" >100</text>
<line x1="290.90" y1="775.60" x2="290.90" y2="778.90" stroke="#111" stroke-width="1.2" />
<text x="290.90" y="788.60" font-size="10" text-anchor="middle" font-weight="normal" font-style="normal" fill="#1a1a1a" stroke="#1a1a1a" stroke-width="0.22" >0</text>
<line x1="334.00" y1="775.60" x2="334.00" y2="778.90" stroke="#111" stroke-width="1.2" />
<text x="334.00" y="788.60" font-size="10" text-anchor="middle" font-weight="normal" font-style="normal" fill="#1a1a1a" stroke="#1a1a1a" stroke-width="0.22" >25</text>
<line x1="377.10" y1="775.60" x2="377.10" y2="778.90" stroke="#111" stroke-width="1.2" />
<text x="377.10" y="788.60" font-size="10" text-anchor="middle" font-weight="normal" font-style="normal" fill="#1a1a1a" stroke="#1a1a1a" stroke-width="0.22" >50</text>
<line x1="420.20" y1="775.60" x2="420.20" y2="778.90" stroke="#111" stroke-width="1.2" />
<text x="420.20" y="788.60" font-size="10" text-anchor="middle" font-weight="normal" font-style="normal" fill="#1a1a1a" stroke="#1a1a1a" stroke-width="0.22" >75</text>
<line x1="463.30" y1="775.60" x2="463.30" y2="778.90" stroke="#111" stroke-width="1.2" />
<text x="463.30" y="788.60" font-size="10" text-anchor="middle" font-weight="normal" font-style="normal" fill="#1a1a1a" stroke="#1a1a1a" stroke-width="0.22" >100</text>
<text x="384.20" y="802.20" font-size="10.5" text-anchor="middle" font-weight="normal" font-style="normal" fill="#1a1a1a" stroke="#1a1a1a" stroke-width="0.22" word-spacing="2.1">Days post tumor implantation</text>
<text x="267.30" y="714.80" font-size="10.45" text-anchor="middle" font-weight="bold" font-style="normal" fill="#1a1a1a" stroke="#1a1a1a" stroke-width="0.22" transform="rotate(-90 267.3 714.8)" >Percent survival</text>
<line x1="290.90" y1="656.20" x2="341.24" y2="656.20" stroke="#5aa85a" stroke-width="1.3" />
<polyline points="341.24,656.20 341.24,656.20 341.24,671.12 396.93,671.12 396.93,686.05 463.30,686.05 463.30,686.05" fill="none" stroke="#ee3b24" stroke-width="1.6" stroke-linejoin="miter" />
<polyline points="337.62,656.20 337.62,656.20 337.62,668.14 341.24,668.14 341.24,680.08 353.65,680.08 353.65,692.02 377.62,692.02 377.62,703.96 384.86,703.96 384.86,715.90 396.93,715.90 396.93,727.84 408.13,727.84 408.13,739.78 411.58,739.78 411.58,751.72 463.30,751.72 463.30,751.72" fill="none" stroke="#1c8c1c" stroke-width="1.6" stroke-linejoin="miter" />
<polygon points="338.04,673.68 344.44,673.68 341.24,668.09" fill="#ee3b24" stroke="#ee3b24" stroke-width="1.2" stroke-linejoin="miter"/>
<polygon points="393.73,688.61 400.13,688.61 396.93,683.01" fill="#ee3b24" stroke="#ee3b24" stroke-width="1.2" stroke-linejoin="miter"/>
<polygon points="460.10,688.61 466.50,688.61 463.30,683.01" fill="#ee3b24" stroke="#ee3b24" stroke-width="1.2" stroke-linejoin="miter"/>
<polygon points="334.42,665.58 340.82,665.58 337.62,671.18" fill="#1c8c1c" stroke="#1c8c1c" stroke-width="1.2" stroke-linejoin="miter"/>
<polygon points="338.04,677.52 344.44,677.52 341.24,683.12" fill="#1c8c1c" stroke="#1c8c1c" stroke-width="1.2" stroke-linejoin="miter"/>
<polygon points="350.45,689.46 356.85,689.46 353.65,695.06" fill="#1c8c1c" stroke="#1c8c1c" stroke-width="1.2" stroke-linejoin="miter"/>
<polygon points="374.42,701.40 380.82,701.40 377.62,707.00" fill="#1c8c1c" stroke="#1c8c1c" stroke-width="1.2" stroke-linejoin="miter"/>
<polygon points="381.66,713.34 388.06,713.34 384.86,718.94" fill="#1c8c1c" stroke="#1c8c1c" stroke-width="1.2" stroke-linejoin="miter"/>
<polygon points="393.73,725.28 400.13,725.28 396.93,730.88" fill="#1c8c1c" stroke="#1c8c1c" stroke-width="1.2" stroke-linejoin="miter"/>
<polygon points="404.93,737.22 411.33,737.22 408.13,742.82" fill="#1c8c1c" stroke="#1c8c1c" stroke-width="1.2" stroke-linejoin="miter"/>
<polygon points="408.38,749.16 414.78,749.16 411.58,754.76" fill="#1c8c1c" stroke="#1c8c1c" stroke-width="1.2" stroke-linejoin="miter"/>
<polygon points="460.10,749.16 466.50,749.16 463.30,754.76" fill="#1c8c1c" stroke="#1c8c1c" stroke-width="1.2" stroke-linejoin="miter"/>
<text x="442.20" y="715.30" font-size="8.8" text-anchor="start" font-weight="bold" font-style="italic" fill="#1a1a1a" stroke="#1a1a1a" stroke-width="0.22" >*P&lt;0.05</text>
<line x1="355.60" y1="636.10" x2="373.80" y2="636.10" stroke="#ee3b24" stroke-width="1.5" />
<polygon points="362.30,638.02 367.10,638.02 364.70,633.82" fill="#ee3b24" stroke="#ee3b24" stroke-width="1.3" stroke-linejoin="miter"/>
<text x="375.30" y="639.70" font-size="10.1" text-anchor="start" font-weight="normal" font-style="normal" fill="#1a1a1a" stroke="#1a1a1a" stroke-width="0.22" >PGG <tspan font-family='Liberation Serif' stroke-width='0'>&#946;</tspan>-glucan+BCP8+Isotype</text>
<line x1="355.60" y1="650.20" x2="373.80" y2="650.20" stroke="#1c8c1c" stroke-width="1.5" />
<polygon points="362.30,648.28 367.10,648.28 364.70,652.48" fill="#1c8c1c" stroke="#1c8c1c" stroke-width="1.3" stroke-linejoin="miter"/>
<text x="375.30" y="653.80" font-size="10.1" text-anchor="start" font-weight="normal" font-style="normal" fill="#1a1a1a" stroke="#1a1a1a" stroke-width="0.22" >PGG <tspan font-family='Liberation Serif' stroke-width='0'>&#946;</tspan>-glucan+BCP8+Gr-1</text>
</svg></body></html>
